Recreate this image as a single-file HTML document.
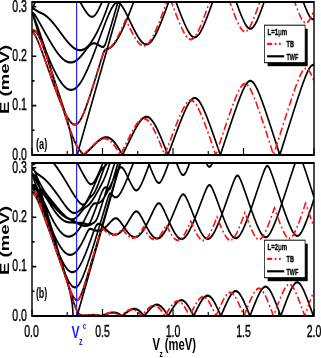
<!DOCTYPE html><html><head><meta charset="utf-8"><style>html,body{margin:0;padding:0;background:#fff}svg{display:block;filter:blur(0.35px)}text{font-family:"Liberation Sans",sans-serif}</style></head><body>
<svg width="321" height="358" viewBox="0 0 445.83 358" preserveAspectRatio="none">
<rect x="0" y="0" width="445.83" height="358" fill="#fff"/>
<defs>
<clipPath id="ctop"><rect x="44.44" y="2" width="391.67" height="153"/></clipPath>
<clipPath id="cbot"><rect x="44.44" y="163" width="391.67" height="153"/></clipPath>
</defs>
<g clip-path="url(#ctop)">
<path d="M44.44,31.24 44.93,31.54 45.42,31.89 45.91,32.29 46.4,32.73 46.89,33.21 47.38,33.73 47.87,34.28 48.36,34.87 48.85,35.49 49.34,36.14 49.83,36.82 50.32,37.52 50.81,38.25 51.3,39 51.79,39.78 52.28,40.57 52.77,41.38 53.26,42.21 53.75,43.06 54.24,43.92 54.73,44.79 55.22,45.68 55.7,46.58 56.19,47.49 56.68,48.41 57.17,49.34 57.66,50.28 58.15,51.22 58.64,52.18 59.13,53.14 59.62,54.1 60.11,55.07 60.6,56.05 61.09,57.03 61.58,58.01 62.07,59 62.56,59.99 63.05,60.99 63.54,61.98 64.03,62.98 64.52,63.98 65.01,64.98 65.5,65.99 65.99,66.99 66.48,67.99 66.97,69 67.45,70 67.94,71.01 68.43,72.01 68.92,73.01 69.41,74.02 69.9,75.02 70.39,76.02 70.88,77.02 71.37,78.01 71.86,79.01 72.35,80 72.84,80.99 73.33,81.98 73.82,82.96 74.31,83.94 74.8,84.92 75.29,85.9 75.78,86.87 76.27,87.83 76.76,88.8 77.25,89.75 77.74,90.71 78.23,91.66 78.72,92.6 79.2,93.54 79.69,94.47 80.18,95.4 80.67,96.32 81.16,97.24 81.65,98.14 82.14,99.04 82.63,99.94 83.12,100.82 83.61,101.7 84.1,102.57 84.59,103.43 85.08,104.28 85.57,105.13 86.06,105.96 86.55,106.78 87.04,107.59 87.53,108.69 88.02,109.8 88.51,110.91 89,112.01 89.49,113.11 89.98,114.21 90.47,115.3 90.95,116.38 91.44,117.46 91.93,118.54 92.42,119.61 92.91,120.67 93.4,121.72 93.89,122.77 94.38,123.81 94.87,124.84 95.36,125.87 95.85,126.88 96.34,127.89 96.83,128.88 97.32,129.87 97.81,130.84 98.3,131.8 98.79,132.75 99.28,133.68 99.77,134.61 100.26,135.51 100.75,136.4 101.24,137.28 101.73,138.13 102.22,138.97 102.7,139.79 103.19,140.59 103.68,141.37 104.17,142.13 104.66,142.87 105.15,143.59 105.64,144.29 106.13,144.96 106.62,145.62 107.11,146.25 107.6,146.85 108.09,147.44 108.58,148.01 109.07,148.55 109.56,149.07 110.05,149.58 110.54,150.07 111.03,150.53 111.52,150.99 112.01,151.42 112.5,151.85 112.99,152.26 113.48,152.66 113.97,153.05 114.45,153.42 114.94,153.79 115.43,154.16 115.92,154.52 116.41,154.87 116.9,154.78 117.39,154.44 117.88,154.1 118.37,153.76 118.86,153.42 119.35,153.08 119.84,152.74 120.33,152.4 120.82,152.07 121.31,151.73 121.8,151.39 122.29,151.04 122.78,150.7 123.27,150.35 123.76,150.01 124.25,149.66 124.74,149.31 125.23,148.96 125.72,148.61 126.2,148.25 126.69,147.9 127.18,147.54 127.67,147.18 128.16,146.83 128.65,146.47 129.14,146.11 129.63,145.76 130.12,145.4 130.61,145.05 131.1,144.69 131.59,144.34 132.08,144 132.57,143.65 133.06,143.31 133.55,142.98 134.04,142.64 134.53,142.32 135.02,141.99 135.51,141.68 136,141.37 136.49,141.07 136.98,140.77 137.47,140.48 137.95,140.21 138.44,139.94 138.93,139.68 139.42,139.43 139.91,139.19 140.4,138.96 140.89,138.75 141.38,138.55 141.87,138.36 142.36,138.18 142.85,138.02 143.34,137.87 143.83,137.74 144.32,137.62 144.81,137.52 145.3,137.44 145.79,137.37 146.28,137.32 146.77,137.29 147.26,137.27 147.75,137.27 148.24,137.29 148.73,137.33 149.22,137.39 149.7,137.47 150.19,137.56 150.68,137.67 151.17,137.81 151.66,137.96 152.15,138.13 152.64,138.32 153.13,138.52 153.62,138.75 154.11,139 154.6,139.26 155.09,139.54 155.58,139.84 156.07,140.16 156.56,140.49 157.05,140.84 157.54,141.21 158.03,141.6 158.52,142 159.01,142.41 159.5,142.84 159.99,143.29 160.48,143.75 160.97,144.23 161.45,144.72 161.94,145.22 162.43,145.73 162.92,146.26 163.41,146.8 163.9,147.35 164.39,147.92 164.88,148.49 165.37,149.08 165.86,149.67 166.35,150.28 166.84,150.89 167.33,151.51 167.82,152.15 168.31,152.79 168.8,153.43 169.29,154.09 169.78,154.75 170.27,154.58 170.76,153.91 171.25,153.22 171.74,152.54 172.23,151.85 172.72,151.15 173.2,150.45 173.69,149.74 174.18,149.03 174.67,148.32 175.16,147.6 175.65,146.88 176.14,146.16 176.63,145.44 177.12,144.71 177.61,143.99 178.1,143.26 178.59,142.53 179.08,141.8 179.57,141.08 180.06,140.35 180.55,139.62 181.04,138.9 181.53,138.17 182.02,137.45 182.51,136.73 183,136.02 183.49,135.31 183.98,134.6 184.47,133.89 184.95,133.19 185.44,132.5 185.93,131.81 186.42,131.13 186.91,130.46 187.4,129.79 187.89,129.13 188.38,128.48 188.87,127.84 189.36,127.21 189.85,126.59 190.34,125.98 190.83,125.38 191.32,124.8 191.81,124.23 192.3,123.67 192.79,123.13 193.28,122.61 193.77,122.1 194.26,121.61 194.75,121.14 195.24,120.69 195.73,120.26 196.22,119.85 196.7,119.46 197.19,119.09 197.68,118.75 198.17,118.44 198.66,118.14 199.15,117.88 199.64,117.64 200.13,117.43 200.62,117.25 201.11,117.09 201.6,116.97 202.09,116.87 202.58,116.81 203.07,116.77 203.56,116.77 204.05,116.79 204.54,116.85 205.03,116.94 205.52,117.05 206.01,117.2 206.5,117.38 206.99,117.59 207.48,117.83 207.97,118.09 208.45,118.39 208.94,118.71 209.43,119.06 209.92,119.43 210.41,119.83 210.9,120.26 211.39,120.71 211.88,121.18 212.37,121.68 212.86,122.2 213.35,122.73 213.84,123.29 214.33,123.87 214.82,124.47 215.31,125.08 215.8,125.72 216.29,126.37 216.78,127.03 217.27,127.71 217.76,128.41 218.25,129.11 218.74,129.84 219.23,130.57 219.72,131.32 220.2,132.08 220.69,132.85 221.18,133.63 221.67,134.42 222.16,135.22 222.65,136.03 223.14,136.84 223.63,137.67 224.12,138.5 224.61,139.35 225.1,140.2 225.59,141.05 226.08,141.91 226.57,142.78 227.06,143.66 227.55,144.54 228.04,145.43 228.53,146.32 229.02,147.21 229.51,148.11 230,149.02 230.49,149.93 230.98,150.84 231.47,151.76 231.95,152.68 232.44,153.6 232.93,154.53 233.42,154.54 233.91,153.61 234.4,152.68 234.89,151.74 235.38,150.8 235.87,149.86 236.36,148.92 236.85,147.98 237.34,147.04 237.83,146.09 238.32,145.14 238.81,144.2 239.3,143.25 239.79,142.3 240.28,141.35 240.77,140.4 241.26,139.46 241.75,138.51 242.24,137.56 242.73,136.61 243.22,135.67 243.7,134.73 244.19,133.78 244.68,132.84 245.17,131.9 245.66,130.96 246.15,130.03 246.64,129.1 247.13,128.17 247.62,127.24 248.11,126.32 248.6,125.4 249.09,124.49 249.58,123.58 250.07,122.67 250.56,121.77 251.05,120.88 251.54,119.99 252.03,119.1 252.52,118.23 253.01,117.36 253.5,116.5 253.99,115.65 254.48,114.8 254.97,113.97 255.45,113.15 255.94,112.34 256.43,111.53 256.92,110.75 257.41,109.97 257.9,109.21 258.39,108.46 258.88,107.73 259.37,107.02 259.86,106.32 260.35,105.65 260.84,104.99 261.33,104.35 261.82,103.74 262.31,103.15 262.8,102.59 263.29,102.05 263.78,101.54 264.27,101.06 264.76,100.61 265.25,100.19 265.74,99.8 266.23,99.45 266.72,99.14 267.2,98.86 267.69,98.62 268.18,98.41 268.67,98.25 269.16,98.13 269.65,98.05 270.14,98.01 270.63,98.01 271.12,98.05 271.61,98.13 272.1,98.26 272.59,98.42 273.08,98.63 273.57,98.87 274.06,99.16 274.55,99.48 275.04,99.83 275.53,100.22 276.02,100.65 276.51,101.11 277,101.6 277.49,102.12 277.98,102.66 278.47,103.24 278.95,103.84 279.44,104.47 279.93,105.11 280.42,105.79 280.91,106.48 281.4,107.19 281.89,107.92 282.38,108.67 282.87,109.44 283.36,110.22 283.85,111.02 284.34,111.84 284.83,112.66 285.32,113.5 285.81,114.35 286.3,115.22 286.79,116.09 287.28,116.98 287.77,117.87 288.26,118.77 288.75,119.69 289.24,120.61 289.73,121.54 290.22,122.47 290.7,123.42 291.19,124.37 291.68,125.32 292.17,126.29 292.66,127.25 293.15,128.23 293.64,129.21 294.13,130.19 294.62,131.18 295.11,132.17 295.6,133.17 296.09,134.17 296.58,135.18 297.07,136.19 297.56,137.2 298.05,138.22 298.54,139.24 299.03,140.26 299.52,141.28 300.01,142.31 300.5,143.34 300.99,144.37 301.48,145.41 301.97,146.44 302.45,147.48 302.94,148.52 303.43,149.57 303.92,150.61 304.41,151.66 304.9,152.71 305.39,153.75 305.88,154.8 306.37,154.14 306.86,153.09 307.35,152.04 307.84,150.98 308.33,149.93 308.82,148.87 309.31,147.81 309.8,146.76 310.29,145.7 310.78,144.64 311.27,143.58 311.76,142.52 312.25,141.47 312.74,140.41 313.23,139.35 313.72,138.29 314.2,137.23 314.69,136.17 315.18,135.11 315.67,134.06 316.16,133 316.65,131.94 317.14,130.89 317.63,129.83 318.12,128.78 318.61,127.73 319.1,126.68 319.59,125.63 320.08,124.58 320.57,123.53 321.06,122.49 321.55,121.45 322.04,120.41 322.53,119.37 323.02,118.33 323.51,117.3 324,116.27 324.49,115.24 324.98,114.22 325.47,113.2 325.95,112.18 326.44,111.17 326.93,110.16 327.42,109.16 327.91,108.16 328.4,107.17 328.89,106.18 329.38,105.2 329.87,104.22 330.36,103.25 330.85,102.29 331.34,101.34 331.83,100.39 332.32,99.46 332.81,98.53 333.3,97.62 333.79,96.71 334.28,95.82 334.77,94.94 335.26,94.07 335.75,93.22 336.24,92.38 336.73,91.56 337.22,90.76 337.7,89.98 338.19,89.21 338.68,88.47 339.17,87.75 339.66,87.06 340.15,86.4 340.64,85.76 341.13,85.15 341.62,84.58 342.11,84.04 342.6,83.53 343.09,83.07 343.58,82.64 344.07,82.26 344.56,81.92 345.05,81.62 345.54,81.38 346.03,81.18 346.52,81.03 347.01,80.93 347.5,80.88 347.99,80.88 348.48,80.94 348.97,81.04 349.45,81.2 349.94,81.4 350.43,81.66 350.92,81.96 351.41,82.3 351.9,82.69 352.39,83.13 352.88,83.6 353.37,84.11 353.86,84.65 354.35,85.24 354.84,85.85 355.33,86.49 355.82,87.16 356.31,87.86 356.8,88.59 357.29,89.34 357.78,90.11 358.27,90.9 358.76,91.71 359.25,92.54 359.74,93.38 360.23,94.24 360.72,95.12 361.2,96.01 361.69,96.91 362.18,97.83 362.67,98.76 363.16,99.7 363.65,100.64 364.14,101.6 364.63,102.57 365.12,103.54 365.61,104.53 366.1,105.52 366.59,106.52 367.08,107.52 367.57,108.53 368.06,109.55 368.55,110.57 369.04,111.6 369.53,112.63 370.02,113.66 370.51,114.71 371,115.75 371.49,116.8 371.98,117.86 372.47,118.91 372.95,119.97 373.44,121.04 373.93,122.1 374.42,123.17 374.91,124.25 375.4,125.32 375.89,126.4 376.38,127.48 376.87,128.56 377.36,129.65 377.85,130.74 378.34,131.83 378.83,132.92 379.32,134.01 379.81,135.1 380.3,136.2 380.79,137.3 381.28,138.4 381.77,139.5 382.26,140.6 382.75,141.7 383.24,142.81 383.73,143.91 384.22,145.02 384.7,146.13 385.19,147.24 385.68,148.35 386.17,149.46 386.66,150.57 387.15,151.68 387.64,152.79 388.13,153.91 388.62,154.98 389.11,153.86 389.6,152.75 390.09,151.63 390.58,150.52 391.07,149.4 391.56,148.28 392.05,147.17 392.54,146.05 393.03,144.93 393.52,143.81 394.01,142.69 394.5,141.58 394.99,140.46 395.48,139.34 395.97,138.22 396.45,137.1 396.94,135.98 397.43,134.87 397.92,133.75 398.41,132.63 398.9,131.51 399.39,130.4 399.88,129.28 400.37,128.17 400.86,127.05 401.35,125.94 401.84,124.82 402.33,123.71 402.82,122.6 403.31,121.48 403.8,120.37 404.29,119.26 404.78,118.15 405.27,117.05 405.76,115.94 406.25,114.83 406.74,113.73 407.23,112.63 407.72,111.53 408.2,110.43 408.69,109.33 409.18,108.24 409.67,107.14 410.16,106.05 410.65,104.96 411.14,103.88 411.63,102.79 412.12,101.71 412.61,100.64 413.1,99.56 413.59,98.49 414.08,97.42 414.57,96.36 415.06,95.3 415.55,94.25 416.04,93.2 416.53,92.15 417.02,91.11 417.51,90.08 418,89.05 418.49,88.03 418.98,87.02 419.47,86.01 419.95,85.01 420.44,84.02 420.93,83.04 421.42,82.08 421.91,81.12 422.4,80.17 422.89,79.24 423.38,78.32 423.87,77.41 424.36,76.53 424.85,75.66 425.34,74.8 425.83,73.97 426.32,73.16 426.81,72.38 427.3,71.62 427.79,70.89 428.28,70.19 428.77,69.52 429.26,68.88 429.75,68.29 430.24,67.73 430.73,67.22 431.22,66.75 431.7,66.33 432.19,65.96 432.68,65.64 433.17,65.38 433.66,65.18 434.15,65.03 434.64,64.95 435.13,64.92 435.62,64.96 436.11,65.06M44.44,31.24 44.93,30.98 45.42,30.78 45.91,30.63 46.4,30.54 46.89,30.51 47.38,30.54 47.87,30.62 48.36,30.77 48.85,30.98 49.34,31.25 49.83,31.58 50.32,31.97 50.81,32.4 51.3,32.89 51.79,33.43 52.28,34.01 52.77,34.62 53.26,35.28 53.75,35.96 54.24,36.68 54.73,37.42 55.22,38.18 55.7,38.96 56.19,39.76 56.68,40.58 57.17,41.41 57.66,42.26 58.15,43.12 58.64,43.99 59.13,44.88 59.62,45.77 60.11,46.68 60.6,47.61 61.09,48.54 61.58,49.49 62.07,50.45 62.56,51.43 63.05,52.43 63.54,53.44 64.03,54.46 64.52,55.5 65.01,56.55 65.5,57.62 65.99,58.7 66.48,59.79 66.97,60.88 67.45,61.99 67.94,63.1 68.43,64.22 68.92,65.34 69.41,66.47 69.9,67.6 70.39,68.74 70.88,69.88 71.37,71.02 71.86,72.16 72.35,73.3 72.84,74.45 73.33,75.6 73.82,76.75 74.31,77.9 74.8,79.05 75.29,80.2 75.78,81.35 76.27,82.5 76.76,83.65 77.25,84.8 77.74,85.95 78.23,87.1 78.72,88.25 79.2,89.4 79.69,90.55 80.18,91.7 80.67,92.84 81.16,93.99 81.65,95.13 82.14,96.27 82.63,97.41 83.12,98.55 83.61,99.69 84.1,100.82 84.59,101.95 85.08,103.08 85.57,104.21 86.06,105.33 86.55,106.46 87.04,107.57 87.53,108.39 88.02,109.18 88.51,109.96 89,110.73 89.49,111.48 89.98,112.22 90.47,112.94 90.95,113.65 91.44,114.35 91.93,115.03 92.42,115.69 92.91,116.34 93.4,116.96 93.89,117.57 94.38,118.16 94.87,118.73 95.36,119.28 95.85,119.81 96.34,120.31 96.83,120.8 97.32,121.25 97.81,121.68 98.3,122.09 98.79,122.47 99.28,122.82 99.77,123.14 100.26,123.43 100.75,123.69 101.24,123.92 101.73,124.11 102.22,124.27 102.7,124.4 103.19,124.48 103.68,124.54 104.17,124.55 104.66,124.52 105.15,124.46 105.64,124.35 106.13,124.21 106.62,124.02 107.11,123.8 107.6,123.53 108.09,123.23 108.58,122.88 109.07,122.5 109.56,122.07 110.05,121.61 110.54,121.11 111.03,120.58 111.52,120.01 112.01,119.41 112.5,118.77 112.99,118.11 113.48,117.41 113.97,116.69 114.45,115.94 114.94,115.17 115.43,114.37 115.92,113.55 116.41,112.7 116.9,111.84 117.39,110.96 117.88,110.06 118.37,109.14 118.86,108.21 119.35,107.27 119.84,106.3 120.33,105.33 120.82,104.34 121.31,103.35 121.8,102.34 122.29,101.32 122.78,100.29 123.27,99.25 123.76,98.21 124.25,97.15 124.74,96.09 125.23,95.02 125.72,93.95 126.2,92.87 126.69,91.78 127.18,90.69 127.67,89.59 128.16,88.48 128.65,87.38 129.14,86.26 129.63,85.15 130.12,84.03 130.61,82.91 131.1,81.78 131.59,80.65 132.08,79.52 132.57,78.38 133.06,77.24 133.55,76.1 134.04,74.96 134.53,73.81 135.02,72.67 135.51,71.52 136,70.37 136.49,69.22 136.98,68.07 137.47,66.92 137.95,65.77 138.44,64.62 138.93,63.48 139.42,62.33 139.91,61.19 140.4,60.05 140.89,58.92 141.38,57.81 141.87,56.7 142.36,55.62 142.85,54.56 143.34,53.55 143.83,52.61 144.32,51.77 144.81,51.06 145.3,50.51 145.79,50.11 146.28,49.83 146.77,49.63 147.26,49.48 147.75,49.36 148.24,49.25 148.73,49.14 149.22,49.03 149.7,48.91 150.19,48.77 150.68,48.63 151.17,48.47 151.66,48.29 152.15,48.1 152.64,47.88 153.13,47.66 153.62,47.41 154.11,47.14 154.6,46.86 155.09,46.55 155.58,46.23 156.07,45.89 156.56,45.53 157.05,45.16 157.54,44.76 158.03,44.35 158.52,43.92 159.01,43.47 159.5,43.01 159.99,42.53 160.48,42.03 160.97,41.52 161.45,40.99 161.94,40.45 162.43,39.89 162.92,39.31 163.41,38.73 163.9,38.12 164.39,37.51 164.88,36.88 165.37,36.24 165.86,35.59 166.35,34.92 166.84,34.24 167.33,33.55 167.82,32.85 168.31,32.14 168.8,31.42 169.29,30.69 169.78,29.94 170.27,29.19 170.76,28.43 171.25,27.66 171.74,26.88 172.23,26.09 172.72,25.3 173.2,24.49 173.69,23.68 174.18,22.86 174.67,22.03 175.16,21.2 175.65,20.36 176.14,19.51 176.63,18.66 177.12,17.79 177.61,16.93 178.1,17.61 178.59,18.34 179.08,19.07 179.57,19.8 180.06,20.54 180.55,21.27 181.04,22.01 181.53,22.74 182.02,23.47 182.51,24.2 183,24.93 183.49,25.65 183.98,26.37 184.47,27.09 184.95,27.8 185.44,28.51 185.93,29.21 186.42,29.9 186.91,30.59 187.4,31.27 187.89,31.94 188.38,32.6 188.87,33.25 189.36,33.89 189.85,34.52 190.34,35.14 190.83,35.74 191.32,36.33 191.81,36.91 192.3,37.47 192.79,38.02 193.28,38.55 193.77,39.06 194.26,39.55 194.75,40.03 195.24,40.48 195.73,40.92 196.22,41.33 196.7,41.72 197.19,42.08 197.68,42.42 198.17,42.74 198.66,43.03 199.15,43.29 199.64,43.52 200.13,43.73 200.62,43.91 201.11,44.06 201.6,44.18 202.09,44.27 202.58,44.32 203.07,44.35 203.56,44.35 204.05,44.31 204.54,44.24 205.03,44.14 205.52,44.01 206.01,43.85 206.5,43.66 206.99,43.44 207.48,43.19 207.97,42.91 208.45,42.6 208.94,42.26 209.43,41.89 209.92,41.5 210.41,41.08 210.9,40.63 211.39,40.16 211.88,39.67 212.37,39.15 212.86,38.61 213.35,38.05 213.84,37.47 214.33,36.87 214.82,36.24 215.31,35.6 215.8,34.94 216.29,34.27 216.78,33.58 217.27,32.87 217.76,32.14 218.25,31.4 218.74,30.65 219.23,29.88 219.72,29.1 220.2,28.31 220.69,27.51 221.18,26.69 221.67,25.86 222.16,25.03 222.65,24.18 223.14,23.32 223.63,22.46 224.12,21.58 224.61,20.7 225.1,19.81 225.59,18.91 226.08,18 226.57,17.08 227.06,16.16 227.55,15.23 228.04,14.3 228.53,13.36 229.02,12.41 229.51,11.45 230,10.49 230.49,9.53 230.98,8.56 231.47,7.59 231.95,6.61 232.44,5.62 232.93,4.63 233.42,3.64 233.91,2.64 234.4,1.64 234.89,0.64 235.38,-0.37 235.87,-1.38M242.73,-1.42 243.22,-0.46 243.7,0.5 244.19,1.46 244.68,2.42 245.17,3.38 245.66,4.33 246.15,5.28 246.64,6.22 247.13,7.16 247.62,8.1 248.11,9.04 248.6,9.97 249.09,10.89 249.58,11.81 250.07,12.72 250.56,13.63 251.05,14.53 251.54,15.43 252.03,16.32 252.52,17.2 253.01,18.07 253.5,18.94 253.99,19.79 254.48,20.64 254.97,21.48 255.45,22.3 255.94,23.12 256.43,23.92 256.92,24.71 257.41,25.48 257.9,26.24 258.39,26.99 258.88,27.72 259.37,28.43 259.86,29.12 260.35,29.8 260.84,30.45 261.33,31.08 261.82,31.69 262.31,32.28 262.8,32.84 263.29,33.37 263.78,33.88 264.27,34.35 264.76,34.79 265.25,35.21 265.74,35.59 266.23,35.93 266.72,36.24 267.2,36.51 267.69,36.74 268.18,36.93 268.67,37.09 269.16,37.2 269.65,37.27 270.14,37.3 270.63,37.29 271.12,37.24 271.61,37.14 272.1,37.01 272.59,36.83 273.08,36.61 273.57,36.35 274.06,36.06 274.55,35.72 275.04,35.35 275.53,34.95 276.02,34.51 276.51,34.04 277,33.53 277.49,33 277.98,32.43 278.47,31.84 278.95,31.23 279.44,30.58 279.93,29.92 280.42,29.23 280.91,28.52 281.4,27.79 281.89,27.04 282.38,26.27 282.87,25.48 283.36,24.68 283.85,23.86 284.34,23.03 284.83,22.18 285.32,21.32 285.81,20.45 286.3,19.57 286.79,18.67 287.28,17.76 287.77,16.85 288.26,15.92 288.75,14.98 289.24,14.04 289.73,13.09 290.22,12.13 290.7,11.16 291.19,10.18 291.68,9.2 292.17,8.21 292.66,7.22 293.15,6.22 293.64,5.21 294.13,4.2 294.62,3.18 295.11,2.16 295.6,1.13 296.09,0.1 296.58,-0.93 297.07,-1.97M326.44,-1.37 326.93,-0.36 327.42,0.64 327.91,1.64 328.4,2.64 328.89,3.62 329.38,4.6 329.87,5.58 330.36,6.55 330.85,7.5 331.34,8.46 331.83,9.4 332.32,10.33 332.81,11.26 333.3,12.17 333.79,13.07 334.28,13.96 334.77,14.84 335.26,15.7 335.75,16.55 336.24,17.38 336.73,18.2 337.22,18.99 337.7,19.77 338.19,20.53 338.68,21.26 339.17,21.98 339.66,22.66 340.15,23.32 340.64,23.95 341.13,24.55 341.62,25.12 342.11,25.65 342.6,26.15 343.09,26.61 343.58,27.03 344.07,27.4 344.56,27.74 345.05,28.02 345.54,28.26 346.03,28.45 346.52,28.59 347.01,28.68 347.5,28.72 347.99,28.71 348.48,28.65 348.97,28.53 349.45,28.37 349.94,28.15 350.43,27.89 350.92,27.58 351.41,27.22 351.9,26.82 352.39,26.38 352.88,25.89 353.37,25.37 353.86,24.81 354.35,24.22 354.84,23.6 355.33,22.94 355.82,22.26 356.31,21.55 356.8,20.81 357.29,20.05 357.78,19.27 358.27,18.46 358.76,17.64 359.25,16.8 359.74,15.94 360.23,15.07 360.72,14.18 361.2,13.27 361.69,12.35 362.18,11.42 362.67,10.48 363.16,9.53 363.65,8.57 364.14,7.6 364.63,6.61 365.12,5.62 365.61,4.63 366.1,3.62 366.59,2.61 367.08,1.59 367.57,0.56 368.06,-0.47 368.55,-1.51M419.47,-1.7 419.95,-0.71 420.44,0.27 420.93,1.25 421.42,2.21 421.91,3.17 422.4,4.11 422.89,5.04 423.38,5.95 423.87,6.85 424.36,7.74 424.85,8.6 425.34,9.45 425.83,10.27 426.32,11.08 426.81,11.86 427.3,12.61 427.79,13.34 428.28,14.03 428.77,14.69 429.26,15.32 429.75,15.91 430.24,16.46 430.73,16.97 431.22,17.43 431.7,17.84 432.19,18.21 432.68,18.52 433.17,18.77 433.66,18.97 434.15,19.11 434.64,19.18 435.13,19.2 435.62,19.16 436.11,19.05M44.44,13.45 44.93,13.91 45.42,14.51 45.91,15.19 46.4,15.95 46.89,16.75 47.38,17.58 47.87,18.43 48.36,19.3 48.85,20.19 49.34,21.09 49.83,22.01 50.32,22.93 50.81,23.87 51.3,24.82 51.79,25.78 52.28,26.75 52.77,27.73 53.26,28.72 53.75,29.72 54.24,30.73 54.73,31.75 55.22,32.77 55.7,33.81 56.19,34.84 56.68,35.89 57.17,36.93 57.66,37.99 58.15,39.04 58.64,40.09 59.13,41.14 59.62,42.19 60.11,43.24 60.6,44.28 61.09,45.31 61.58,46.34 62.07,47.35 62.56,48.35 63.05,49.34 63.54,50.31 64.03,51.27 64.52,52.22 65.01,53.15 65.5,54.07 65.99,54.98 66.48,55.87 66.97,56.75 67.45,57.62 67.94,58.48 68.43,59.33 68.92,60.17 69.41,61 69.9,61.83 70.39,62.64 70.88,63.45 71.37,64.25 71.86,65.03 72.35,65.82 72.84,66.59 73.33,67.35 73.82,68.1 74.31,68.85 74.8,69.59 75.29,70.31 75.78,71.03 76.27,71.74 76.76,72.44 77.25,73.13 77.74,73.81 78.23,74.48 78.72,75.13 79.2,75.78 79.69,76.42 80.18,77.04 80.67,77.66 81.16,78.26 81.65,78.85 82.14,79.42 82.63,79.99 83.12,80.54 83.61,81.08 84.1,81.61 84.59,82.12 85.08,82.62 85.57,83.1 86.06,83.57 86.55,84.03 87.04,84.47 87.53,84.89 88.02,85.3 88.51,85.7 89,86.07 89.49,86.44 89.98,86.78 90.47,87.11 90.95,87.42 91.44,87.71 91.93,87.99 92.42,88.25 92.91,88.49 93.4,88.71 93.89,88.91 94.38,89.1 94.87,89.26 95.36,89.41 95.85,89.53 96.34,89.64 96.83,89.73 97.32,89.8 97.81,89.84 98.3,89.87 98.79,89.88 99.28,89.86 99.77,89.83 100.26,89.77 100.75,89.7 101.24,89.6 101.73,89.49 102.22,89.35 102.7,89.19 103.19,89.01 103.68,88.81 104.17,88.59 104.66,88.35 105.15,88.09 105.64,87.81 106.13,87.51 106.62,87.19 107.11,86.84 107.6,86.48 108.09,86.1 108.58,85.7 109.07,85.29 109.56,84.85 110.05,84.4 110.54,83.92 111.03,83.43 111.52,82.92 112.01,82.4 112.5,81.86 112.99,81.3 113.48,80.72 113.97,80.13 114.45,79.52 114.94,78.9 115.43,78.27 115.92,77.62 116.41,76.95 116.9,76.27 117.39,75.58 117.88,74.88 118.37,74.16 118.86,73.43 119.35,72.69 119.84,71.93 120.33,71.17 120.82,70.39 121.31,69.61 121.8,68.81 122.29,68 122.78,67.19 123.27,66.36 123.76,65.53 124.25,64.69 124.74,63.84 125.23,62.98 125.72,62.11 126.2,61.24 126.69,60.36 127.18,59.47 127.67,58.58 128.16,57.68 128.65,56.77 129.14,55.86 129.63,54.94 130.12,54.02 130.61,53.09 131.1,52.16 131.59,51.23 132.08,50.29 132.57,49.35 133.06,48.4 133.55,47.45 134.04,46.5 134.53,45.55 135.02,44.59 135.51,44.48 136,44.68 136.49,44.88 136.98,45.09 137.47,45.3 137.95,45.51 138.44,45.71 138.93,45.91 139.42,46.1 139.91,46.28 140.4,46.45 140.89,46.6 141.38,46.73 141.87,46.84 142.36,46.91 142.85,46.95 143.34,46.92 143.83,46.81 144.32,46.58 144.81,46.21 145.3,45.66 145.79,44.94 146.28,44.09 146.77,43.13 147.26,42.11 147.75,41.04 148.24,39.94 148.73,38.82 149.22,37.68 149.7,36.54 150.19,35.38 150.68,34.21 151.17,33.04 151.66,31.86 152.15,30.68 152.64,29.5 153.13,28.31 153.62,27.13 154.11,25.93 154.6,24.74 155.09,23.55 155.58,22.35 156.07,21.15 156.56,19.96 157.05,18.76 157.54,17.56 158.03,16.35 158.52,15.15 159.01,13.95 159.5,12.74 159.99,11.54 160.48,10.33 160.97,9.13 161.45,7.92 161.94,6.71 162.43,5.51 162.92,4.3 163.41,3.09 163.9,2.45 164.39,2.55 164.88,2.71 165.37,2.91 165.86,3.16 166.35,3.44 166.84,3.77 167.33,4.13 167.82,4.53 168.31,4.96 168.8,5.43 169.29,5.92 169.78,6.43 170.27,6.97 170.76,7.54 171.25,8.12 171.74,8.72 172.23,9.34 172.72,9.97 173.2,10.62 173.69,11.28 174.18,11.95 174.67,12.63 175.16,13.33 175.65,14.02 176.14,14.73 176.63,15.44 177.12,16.16 177.61,16.88 178.1,16.05 178.59,15.18 179.08,14.29 179.57,13.4 180.06,12.51 180.55,11.61 181.04,10.7 181.53,9.79 182.02,8.88 182.51,7.96 183,7.04 183.49,6.11 183.98,5.18 184.47,4.25 184.95,3.31 185.44,2.37 185.93,1.42 186.42,0.47 186.91,-0.48 187.4,-1.43M44.44,13.45 44.93,13.16 45.42,13.04 45.91,13.09 46.4,13.29 46.89,13.58 47.38,13.96 47.87,14.39 48.36,14.87 48.85,15.38 49.34,15.92 49.83,16.48 50.32,17.05 50.81,17.63 51.3,18.22 51.79,18.82 52.28,19.43 52.77,20.04 53.26,20.65 53.75,21.27 54.24,21.89 54.73,22.51 55.22,23.13 55.7,23.75 56.19,24.38 56.68,25.01 57.17,25.64 57.66,26.27 58.15,26.9 58.64,27.53 59.13,28.16 59.62,28.79 60.11,29.42 60.6,30.05 61.09,30.68 61.58,31.31 62.07,31.94 62.56,32.57 63.05,33.2 63.54,33.82 64.03,34.45 64.52,35.07 65.01,35.7 65.5,36.32 65.99,36.94 66.48,37.56 66.97,38.17 67.45,38.79 67.94,39.4 68.43,40.01 68.92,40.61 69.41,41.21 69.9,41.81 70.39,42.41 70.88,43 71.37,43.58 71.86,44.17 72.35,44.74 72.84,45.32 73.33,45.88 73.82,46.45 74.31,47 74.8,47.56 75.29,48.1 75.78,48.64 76.27,49.17 76.76,49.7 77.25,50.22 77.74,50.73 78.23,51.23 78.72,51.73 79.2,52.22 79.69,52.7 80.18,53.17 80.67,53.63 81.16,54.08 81.65,54.53 82.14,54.96 82.63,55.39 83.12,55.8 83.61,56.21 84.1,56.6 84.59,56.98 85.08,57.36 85.57,57.72 86.06,58.07 86.55,58.4 87.04,58.73 87.53,59.04 88.02,59.35 88.51,59.63 89,59.91 89.49,60.17 89.98,60.42 90.47,60.66 90.95,60.88 91.44,61.09 91.93,61.28 92.42,61.46 92.91,61.62 93.4,61.78 93.89,61.91 94.38,62.03 94.87,62.14 95.36,62.23 95.85,62.31 96.34,62.37 96.83,62.41 97.32,62.44 97.81,62.46 98.3,62.46 98.79,62.44 99.28,62.41 99.77,62.37 100.26,62.3 100.75,62.23 101.24,62.13 101.73,62.03 102.22,61.9 102.7,61.77 103.19,61.61 103.68,61.44 104.17,61.26 104.66,61.06 105.15,60.85 105.64,60.63 106.13,60.39 106.62,60.13 107.11,59.87 107.6,59.59 108.09,59.29 108.58,58.99 109.07,58.67 109.56,58.34 110.05,58 110.54,57.64 111.03,57.28 111.52,56.9 112.01,56.52 112.5,56.12 112.99,55.72 113.48,55.31 113.97,54.89 114.45,54.46 114.94,54.02 115.43,53.58 115.92,53.13 116.41,52.68 116.9,52.23 117.39,51.77 117.88,51.31 118.37,50.85 118.86,50.38 119.35,49.92 119.84,49.46 120.33,49.01 120.82,48.56 121.31,48.11 121.8,47.68 122.29,47.25 122.78,46.84 123.27,46.44 123.76,46.05 124.25,45.68 124.74,45.34 125.23,45.01 125.72,44.7 126.2,44.43 126.69,44.18 127.18,43.95 127.67,43.76 128.16,43.6 128.65,43.47 129.14,43.37 129.63,43.3 130.12,43.27 130.61,43.26 131.1,43.29 131.59,43.34 132.08,43.41 132.57,43.51 133.06,43.63 133.55,43.77 134.04,43.93 134.53,44.1 135.02,44.28 135.51,43.63 136,42.67 136.49,41.71 136.98,40.75 137.47,39.79 137.95,38.83 138.44,37.87 138.93,36.91 139.42,35.95 139.91,34.99 140.4,34.03 140.89,33.07 141.38,32.12 141.87,31.17 142.36,30.22 142.85,29.28 143.34,28.34 143.83,27.4 144.32,26.47 144.81,25.55 145.3,24.63 145.79,23.72 146.28,22.81 146.77,21.91 147.26,21.02 147.75,20.13 148.24,19.26 148.73,18.39 149.22,17.53 149.7,16.69 150.19,15.85 150.68,15.03 151.17,14.22 151.66,13.43 152.15,12.65 152.64,11.88 153.13,11.13 153.62,10.4 154.11,9.69 154.6,9 155.09,8.34 155.58,7.69 156.07,7.08 156.56,6.49 157.05,5.94 157.54,5.41 158.03,4.92 158.52,4.47 159.01,4.06 159.5,3.68 159.99,3.35 160.48,3.07 160.97,2.83 161.45,2.64 161.94,2.5 162.43,2.41 162.92,2.38 163.41,2.39 163.9,1.88 164.39,0.67 164.88,-0.54 165.37,-1.75M44.44,8.18 44.93,8.39 45.42,8.53 45.91,8.65 46.4,8.76 46.89,8.89 47.38,9.05 47.87,9.24 48.36,9.44 48.85,9.67 49.34,9.9 49.83,10.14 50.32,10.38 50.81,10.61 51.3,10.84 51.79,11.05 52.28,11.26 52.77,11.46 53.26,11.65 53.75,11.83 54.24,12 54.73,12.17 55.22,12.34 55.7,12.5 56.19,12.67 56.68,12.83 57.17,13 57.66,13.17 58.15,13.34 58.64,13.52 59.13,13.71 59.62,13.9 60.11,14.1 60.6,14.31 61.09,14.52 61.58,14.74 62.07,14.97 62.56,15.21 63.05,15.46 63.54,15.72 64.03,15.99 64.52,16.26 65.01,16.54 65.5,16.84 65.99,17.14 66.48,17.45 66.97,17.77 67.45,18.1 67.94,18.43 68.43,18.78 68.92,19.13 69.41,19.49 69.9,19.85 70.39,20.23 70.88,20.61 71.37,21 71.86,21.39 72.35,21.8 72.84,22.2 73.33,22.62 73.82,23.04 74.31,23.46 74.8,23.89 75.29,24.32 75.78,24.76 76.27,25.21 76.76,25.66 77.25,26.11 77.74,26.56 78.23,27.02 78.72,27.48 79.2,27.95 79.69,28.42 80.18,28.89 80.67,29.36 81.16,29.83 81.65,30.31 82.14,30.78 82.63,31.26 83.12,31.74 83.61,32.22 84.1,32.69 84.59,33.17 85.08,33.65 85.57,34.13 86.06,34.6 86.55,35.07 87.04,35.55 87.53,36.02 88.02,36.49 88.51,36.95 89,37.41 89.49,37.87 89.98,38.33 90.47,38.78 90.95,39.23 91.44,39.67 91.93,40.11 92.42,40.55 92.91,40.98 93.4,41.4 93.89,41.82 94.38,42.23 94.87,42.63 95.36,43.03 95.85,43.42 96.34,43.8 96.83,44.17 97.32,44.54 97.81,44.9 98.3,45.25 98.79,45.59 99.28,45.92 99.77,46.24 100.26,46.55 100.75,46.84 101.24,47.13 101.73,47.41 102.22,47.67 102.7,47.93 103.19,48.17 103.68,48.4 104.17,48.62 104.66,48.82 105.15,49.01 105.64,49.19 106.13,49.35 106.62,49.5 107.11,49.63 107.6,49.75 108.09,49.86 108.58,49.95 109.07,50.02 109.56,50.08 110.05,50.13 110.54,50.16 111.03,50.17 111.52,50.16 112.01,50.15 112.5,50.11 112.99,50.06 113.48,49.99 113.97,49.91 114.45,49.81 114.94,49.69 115.43,49.56 115.92,49.41 116.41,49.24 116.9,49.06 117.39,48.86 117.88,48.64 118.37,48.41 118.86,48.16 119.35,47.9 119.84,47.62 120.33,47.32 120.82,47.01 121.31,46.68 121.8,46.34 122.29,45.98 122.78,45.61 123.27,45.22 123.76,44.82 124.25,44.4 124.74,43.97 125.23,43.52 125.72,43.06 126.2,42.59 126.69,42.1 127.18,41.6 127.67,41.08 128.16,40.55 128.65,40.01 129.14,39.46 129.63,38.89 130.12,38.31 130.61,37.72 131.1,37.12 131.59,36.5 132.08,35.87 132.57,35.23 133.06,34.58 133.55,33.92 134.04,33.25 134.53,32.56 135.02,31.87 135.51,31.16 136,30.44 136.49,29.72 136.98,28.98 137.47,28.23 137.95,27.47 138.44,26.7 138.93,25.92 139.42,25.13 139.91,24.33 140.4,23.52 140.89,22.7 141.38,21.87 141.87,21.03 142.36,20.18 142.85,19.33 143.34,18.46 143.83,17.58 144.32,16.69 144.81,15.8 145.3,14.89 145.79,13.97 146.28,13.05 146.77,12.12 147.26,11.18 147.75,10.22 148.24,9.27 148.73,8.3 149.22,7.32 149.7,6.34 150.19,5.35 150.68,4.35 151.17,3.35 151.66,2.33 152.15,1.31 152.64,0.29 153.13,-0.74 153.62,-1.78M44.44,8.18 44.93,7.87 45.42,7.43 45.91,6.86 46.4,6.19 46.89,5.45 47.38,4.66 47.87,3.83 48.36,2.98 48.85,2.1 49.34,1.21 49.83,0.31 50.32,-0.6 50.81,-1.51M108.58,-1.65 109.07,-1 109.56,-0.35 110.05,0.29 110.54,0.93 111.03,1.57 111.52,2.21 112.01,2.84 112.5,3.47 112.99,4.1 113.48,4.72 113.97,5.34 114.45,5.95 114.94,6.56 115.43,7.15 115.92,7.75 116.41,8.33 116.9,8.9 117.39,9.47 117.88,10.02 118.37,10.57 118.86,11.1 119.35,11.61 119.84,12.11 120.33,12.6 120.82,13.07 121.31,13.52 121.8,13.94 122.29,14.35 122.78,14.73 123.27,15.08 123.76,15.41 124.25,15.71 124.74,15.97 125.23,16.2 125.72,16.39 126.2,16.54 126.69,16.66 127.18,16.73 127.67,16.76 128.16,16.74 128.65,16.67 129.14,16.57 129.63,16.41 130.12,16.21 130.61,15.96 131.1,15.67 131.59,15.34 132.08,14.97 132.57,14.56 133.06,14.11 133.55,13.62 134.04,13.1 134.53,12.55 135.02,11.97 135.51,11.36 136,10.73 136.49,10.07 136.98,9.39 137.47,8.69 137.95,7.97 138.44,7.22 138.93,6.47 139.42,5.69 139.91,4.9 140.4,4.1 140.89,3.28 141.38,2.45 141.87,1.61 142.36,0.76 142.85,-0.1 143.34,-0.98 143.83,-1.86" fill="none" stroke="#000" stroke-width="2.2" stroke-linejoin="round"/>
<path d="M44.44,12 52.08,30 66.53,60 76.39,82 83.33,97 89.58,111 93.75,121 96.53,129 98.61,136 100.28,143 101.11,149 101.53,156M106.67,156L167.36,2" fill="none" stroke="#000" stroke-width="2.2" stroke-linejoin="round"/>
<line x1="106.39" y1="2.0" x2="106.39" y2="155.0" stroke="#1e1eff" stroke-width="1.6"/>
<path d="M44.44,31.13 44.93,31.44 45.42,31.8 45.91,32.2 46.4,32.64 46.89,33.13 47.38,33.65 47.87,34.21 48.36,34.8 48.85,35.42 49.34,36.07 49.83,36.75 50.32,37.45 50.81,38.18 51.3,38.93 51.79,39.71 52.28,40.5 52.77,41.31 53.26,42.14 53.75,42.99 54.24,43.85 54.73,44.73 55.22,45.61 55.7,46.51 56.19,47.42 56.68,48.34 57.17,49.27 57.66,50.21 58.15,51.16 58.64,52.11 59.13,53.07 59.62,54.04 60.11,55.01 60.6,55.99 61.09,56.97 61.58,57.96 62.07,58.95 62.56,59.94 63.05,60.93 63.54,61.93 64.03,62.93 64.52,63.93 65.01,64.93 65.5,65.94 65.99,66.94 66.48,67.95 66.97,68.95 67.45,69.96 67.94,70.97 68.43,71.97 68.92,72.98 69.41,73.98 69.9,74.98 70.39,75.99 70.88,76.99 71.37,77.98 71.86,78.98 72.35,79.97 72.84,80.97 73.33,81.95 73.82,82.94 74.31,83.92 74.8,84.9 75.29,85.88 75.78,86.85 76.27,87.82 76.76,88.79 77.25,89.75 77.74,90.7 78.23,91.65 78.72,92.6 79.2,93.54 79.69,94.48 80.18,95.4 80.67,96.33 81.16,97.24 81.65,98.15 82.14,99.06 82.63,99.95 83.12,100.84 83.61,101.72 84.1,102.59 84.59,103.45 85.08,104.31 85.57,105.15 86.06,105.99 86.55,106.81 87.04,107.62 87.53,108.72 88.02,109.84 88.51,110.95 89,112.05 89.49,113.16 89.98,114.25 90.47,115.35 90.95,116.44 91.44,117.52 91.93,118.6 92.42,119.67 92.91,120.74 93.4,121.8 93.89,122.86 94.38,123.9 94.87,124.94 95.36,125.97 95.85,126.99 96.34,128 96.83,129.01 97.32,130 97.81,130.98 98.3,131.95 98.79,132.91 99.28,133.85 99.77,134.78 100.26,135.7 100.75,136.6 101.24,137.49 101.73,138.36 102.22,139.21 102.7,140.04 103.19,140.86 103.68,141.65 104.17,142.43 104.66,143.19 105.15,143.92 105.64,144.63 106.13,145.33 106.62,146 107.11,146.64 107.6,147.27 108.09,147.88 108.58,148.46 109.07,149.03 109.56,149.57 110.05,150.09 110.54,150.6 111.03,151.09 111.52,151.56 112.01,152.02 112.5,152.46 112.99,152.89 113.48,153.3 113.97,153.71 114.45,154.11 114.94,154.49 115.43,154.87 115.92,154.76 116.41,154.39 116.9,154.03 117.39,153.67 117.88,153.32 118.37,152.97 118.86,152.62 119.35,152.27 119.84,151.93 120.33,151.58 120.82,151.24 121.31,150.89 121.8,150.55 122.29,150.21 122.78,149.86 123.27,149.52 123.76,149.17 124.25,148.83 124.74,148.48 125.23,148.14 125.72,147.8 126.2,147.45 126.69,147.11 127.18,146.77 127.67,146.42 128.16,146.08 128.65,145.75 129.14,145.41 129.63,145.08 130.12,144.74 130.61,144.42 131.1,144.09 131.59,143.77 132.08,143.46 132.57,143.15 133.06,142.84 133.55,142.55 134.04,142.25 134.53,141.97 135.02,141.69 135.51,141.42 136,141.16 136.49,140.91 136.98,140.67 137.47,140.44 137.95,140.22 138.44,140.01 138.93,139.81 139.42,139.63 139.91,139.46 140.4,139.3 140.89,139.15 141.38,139.02 141.87,138.91 142.36,138.81 142.85,138.72 143.34,138.65 143.83,138.6 144.32,138.57 144.81,138.55 145.3,138.55 145.79,138.56 146.28,138.6 146.77,138.65 147.26,138.72 147.75,138.81 148.24,138.91 148.73,139.04 149.22,139.18 149.7,139.35 150.19,139.53 150.68,139.73 151.17,139.94 151.66,140.18 152.15,140.43 152.64,140.7 153.13,140.99 153.62,141.3 154.11,141.62 154.6,141.96 155.09,142.32 155.58,142.69 156.07,143.08 156.56,143.49 157.05,143.91 157.54,144.34 158.03,144.79 158.52,145.25 159.01,145.73 159.5,146.22 159.99,146.72 160.48,147.24 160.97,147.76 161.45,148.3 161.94,148.85 162.43,149.41 162.92,149.99 163.41,150.57 163.9,151.16 164.39,151.76 164.88,152.37 165.37,152.99 165.86,153.62 166.35,154.25 166.84,154.89 167.33,154.46 167.82,153.81 168.31,153.15 168.8,152.48 169.29,151.81 169.78,151.13 170.27,150.45 170.76,149.76 171.25,149.07 171.74,148.38 172.23,147.68 172.72,146.98 173.2,146.28 173.69,145.57 174.18,144.87 174.67,144.16 175.16,143.45 175.65,142.74 176.14,142.03 176.63,141.33 177.12,140.62 177.61,139.91 178.1,139.21 178.59,138.5 179.08,137.8 179.57,137.1 180.06,136.41 180.55,135.72 181.04,135.03 181.53,134.35 182.02,133.67 182.51,133 183,132.33 183.49,131.68 183.98,131.03 184.47,130.38 184.95,129.75 185.44,129.13 185.93,128.51 186.42,127.91 186.91,127.32 187.4,126.74 187.89,126.17 188.38,125.62 188.87,125.08 189.36,124.55 189.85,124.05 190.34,123.56 190.83,123.08 191.32,122.63 191.81,122.2 192.3,121.78 192.79,121.39 193.28,121.02 193.77,120.67 194.26,120.35 194.75,120.05 195.24,119.77 195.73,119.52 196.22,119.3 196.7,119.11 197.19,118.94 197.68,118.8 198.17,118.69 198.66,118.61 199.15,118.56 199.64,118.54 200.13,118.55 200.62,118.59 201.11,118.66 201.6,118.76 202.09,118.9 202.58,119.06 203.07,119.25 203.56,119.47 204.05,119.71 204.54,119.99 205.03,120.29 205.52,120.62 206.01,120.98 206.5,121.36 206.99,121.77 207.48,122.21 207.97,122.66 208.45,123.14 208.94,123.64 209.43,124.16 209.92,124.71 210.41,125.27 210.9,125.85 211.39,126.45 211.88,127.07 212.37,127.7 212.86,128.35 213.35,129.02 213.84,129.7 214.33,130.4 214.82,131.11 215.31,131.83 215.8,132.56 216.29,133.31 216.78,134.07 217.27,134.83 217.76,135.61 218.25,136.4 218.74,137.2 219.23,138.01 219.72,138.82 220.2,139.65 220.69,140.48 221.18,141.32 221.67,142.16 222.16,143.02 222.65,143.88 223.14,144.74 223.63,145.61 224.12,146.49 224.61,147.37 225.1,148.26 225.59,149.15 226.08,150.04 226.57,150.94 227.06,151.85 227.55,152.76 228.04,153.67 228.53,154.58 229.02,154.5 229.51,153.58 230,152.66 230.49,151.74 230.98,150.81 231.47,149.88 231.95,148.95 232.44,148.02 232.93,147.09 233.42,146.15 233.91,145.22 234.4,144.28 234.89,143.35 235.38,142.41 235.87,141.47 236.36,140.54 236.85,139.6 237.34,138.66 237.83,137.73 238.32,136.79 238.81,135.86 239.3,134.93 239.79,134 240.28,133.07 240.77,132.14 241.26,131.22 241.75,130.3 242.24,129.38 242.73,128.47 243.22,127.56 243.7,126.65 244.19,125.75 244.68,124.85 245.17,123.95 245.66,123.07 246.15,122.18 246.64,121.31 247.13,120.44 247.62,119.58 248.11,118.72 248.6,117.88 249.09,117.04 249.58,116.21 250.07,115.39 250.56,114.58 251.05,113.79 251.54,113 252.03,112.23 252.52,111.48 253.01,110.73 253.5,110.01 253.99,109.3 254.48,108.61 254.97,107.93 255.45,107.28 255.94,106.65 256.43,106.04 256.92,105.45 257.41,104.89 257.9,104.35 258.39,103.84 258.88,103.36 259.37,102.91 259.86,102.49 260.35,102.11 260.84,101.75 261.33,101.44 261.82,101.16 262.31,100.92 262.8,100.71 263.29,100.55 263.78,100.42 264.27,100.33 264.76,100.29 265.25,100.29 265.74,100.33 266.23,100.41 266.72,100.53 267.2,100.69 267.69,100.89 268.18,101.12 268.67,101.4 269.16,101.72 269.65,102.07 270.14,102.45 270.63,102.87 271.12,103.32 271.61,103.81 272.1,104.32 272.59,104.86 273.08,105.43 273.57,106.03 274.06,106.65 274.55,107.29 275.04,107.96 275.53,108.64 276.02,109.35 276.51,110.08 277,110.82 277.49,111.58 277.98,112.36 278.47,113.16 278.95,113.96 279.44,114.79 279.93,115.62 280.42,116.47 280.91,117.33 281.4,118.2 281.89,119.08 282.38,119.97 282.87,120.87 283.36,121.78 283.85,122.69 284.34,123.62 284.83,124.55 285.32,125.49 285.81,126.44 286.3,127.39 286.79,128.35 287.28,129.31 287.77,130.28 288.26,131.26 288.75,132.24 289.24,133.22 289.73,134.21 290.22,135.21 290.7,136.21 291.19,137.21 291.68,138.21 292.17,139.22 292.66,140.23 293.15,141.25 293.64,142.27 294.13,143.29 294.62,144.31 295.11,145.34 295.6,146.37 296.09,147.4 296.58,148.43 297.07,149.46 297.56,150.5 298.05,151.54 298.54,152.58 299.03,153.62 299.52,154.66 300.01,154.29 300.5,153.25 300.99,152.2 301.48,151.15 301.97,150.1 302.45,149.05 302.94,148 303.43,146.95 303.92,145.9 304.41,144.85 304.9,143.8 305.39,142.75 305.88,141.7 306.37,140.64 306.86,139.59 307.35,138.54 307.84,137.49 308.33,136.44 308.82,135.39 309.31,134.34 309.8,133.29 310.29,132.24 310.78,131.19 311.27,130.14 311.76,129.1 312.25,128.05 312.74,127.01 313.23,125.97 313.72,124.93 314.2,123.89 314.69,122.86 315.18,121.83 315.67,120.79 316.16,119.77 316.65,118.74 317.14,117.72 317.63,116.7 318.12,115.69 318.61,114.67 319.1,113.67 319.59,112.66 320.08,111.67 320.57,110.67 321.06,109.68 321.55,108.7 322.04,107.72 322.53,106.75 323.02,105.79 323.51,104.84 324,103.89 324.49,102.95 324.98,102.02 325.47,101.1 325.95,100.19 326.44,99.29 326.93,98.4 327.42,97.53 327.91,96.67 328.4,95.82 328.89,94.99 329.38,94.18 329.87,93.39 330.36,92.61 330.85,91.86 331.34,91.12 331.83,90.42 332.32,89.73 332.81,89.08 333.3,88.45 333.79,87.86 334.28,87.29 334.77,86.76 335.26,86.27 335.75,85.82 336.24,85.41 336.73,85.04 337.22,84.71 337.7,84.43 338.19,84.2 338.68,84.01 339.17,83.88 339.66,83.79 340.15,83.76 340.64,83.78 341.13,83.84 341.62,83.96 342.11,84.13 342.6,84.35 343.09,84.62 343.58,84.93 344.07,85.29 344.56,85.69 345.05,86.13 345.54,86.61 346.03,87.13 346.52,87.68 347.01,88.27 347.5,88.89 347.99,89.54 348.48,90.22 348.97,90.92 349.45,91.65 349.94,92.41 350.43,93.18 350.92,93.98 351.41,94.79 351.9,95.62 352.39,96.47 352.88,97.33 353.37,98.21 353.86,99.11 354.35,100.01 354.84,100.93 355.33,101.86 355.82,102.8 356.31,103.75 356.8,104.71 357.29,105.67 357.78,106.65 358.27,107.63 358.76,108.62 359.25,109.62 359.74,110.63 360.23,111.64 360.72,112.65 361.2,113.68 361.69,114.7 362.18,115.74 362.67,116.77 363.16,117.81 363.65,118.86 364.14,119.91 364.63,120.96 365.12,122.02 365.61,123.08 366.1,124.14 366.59,125.21 367.08,126.28 367.57,127.35 368.06,128.42 368.55,129.5 369.04,130.58 369.53,131.66 370.02,132.75 370.51,133.83 371,134.92 371.49,136.01 371.98,137.1 372.47,138.2 372.95,139.29 373.44,140.39 373.93,141.48 374.42,142.58 374.91,143.68 375.4,144.78 375.89,145.89 376.38,146.99 376.87,148.1 377.36,149.2 377.85,150.31 378.34,151.42 378.83,152.52 379.32,153.63 379.81,154.74 380.3,154.15 380.79,153.04 381.28,151.92 381.77,150.81 382.26,149.7 382.75,148.59 383.24,147.47 383.73,146.36 384.22,145.25 384.7,144.13 385.19,143.02 385.68,141.9 386.17,140.79 386.66,139.68 387.15,138.56 387.64,137.45 388.13,136.33 388.62,135.22 389.11,134.11 389.6,132.99 390.09,131.88 390.58,130.77 391.07,129.66 391.56,128.55 392.05,127.44 392.54,126.33 393.03,125.22 393.52,124.11 394.01,123 394.5,121.9 394.99,120.79 395.48,119.69 395.97,118.58 396.45,117.48 396.94,116.38 397.43,115.28 397.92,114.19 398.41,113.09 398.9,112 399.39,110.91 399.88,109.82 400.37,108.73 400.86,107.64 401.35,106.56 401.84,105.48 402.33,104.41 402.82,103.33 403.31,102.26 403.8,101.2 404.29,100.13 404.78,99.08 405.27,98.02 405.76,96.97 406.25,95.93 406.74,94.89 407.23,93.86 407.72,92.83 408.2,91.81 408.69,90.8 409.18,89.79 409.67,88.79 410.16,87.8 410.65,86.82 411.14,85.85 411.63,84.89 412.12,83.95 412.61,83.01 413.1,82.09 413.59,81.18 414.08,80.29 414.57,79.42 415.06,78.57 415.55,77.73 416.04,76.92 416.53,76.13 417.02,75.37 417.51,74.63 418,73.92 418.49,73.25 418.98,72.61 419.47,72 419.95,71.44 420.44,70.92 420.93,70.44 421.42,70.01 421.91,69.64 422.4,69.31 422.89,69.04 423.38,68.82 423.87,68.67 424.36,68.57 424.85,68.53 425.34,68.56 425.83,68.64 426.32,68.79 426.81,68.99 427.3,69.25 427.79,69.56 428.28,69.93 428.77,70.35 429.26,70.82 429.75,71.33 430.24,71.89 430.73,72.48 431.22,73.12 431.7,73.78 432.19,74.48 432.68,75.22 433.17,75.98 433.66,76.76 434.15,77.57 434.64,78.4 435.13,79.25 435.62,80.13 436.11,81.02M44.44,31.13 44.93,30.87 45.42,30.67 45.91,30.51 46.4,30.42 46.89,30.38 47.38,30.4 47.87,30.49 48.36,30.64 48.85,30.85 49.34,31.13 49.83,31.46 50.32,31.86 50.81,32.31 51.3,32.81 51.79,33.36 52.28,33.96 52.77,34.59 53.26,35.26 53.75,35.97 54.24,36.7 54.73,37.46 55.22,38.24 55.7,39.04 56.19,39.85 56.68,40.68 57.17,41.53 57.66,42.39 58.15,43.26 58.64,44.14 59.13,45.04 59.62,45.94 60.11,46.85 60.6,47.78 61.09,48.71 61.58,49.66 62.07,50.62 62.56,51.59 63.05,52.57 63.54,53.57 64.03,54.59 64.52,55.62 65.01,56.66 65.5,57.71 65.99,58.78 66.48,59.86 66.97,60.94 67.45,62.04 67.94,63.14 68.43,64.26 68.92,65.37 69.41,66.5 69.9,67.62 70.39,68.76 70.88,69.89 71.37,71.03 71.86,72.17 72.35,73.31 72.84,74.46 73.33,75.6 73.82,76.75 74.31,77.9 74.8,79.05 75.29,80.2 75.78,81.35 76.27,82.5 76.76,83.65 77.25,84.8 77.74,85.95 78.23,87.1 78.72,88.25 79.2,89.4 79.69,90.55 80.18,91.7 80.67,92.85 81.16,93.99 81.65,95.14 82.14,96.28 82.63,97.42 83.12,98.56 83.61,99.7 84.1,100.84 84.59,101.97 85.08,103.1 85.57,104.23 86.06,105.36 86.55,106.48 87.04,107.6 87.53,108.43 88.02,109.22 88.51,110 89,110.76 89.49,111.52 89.98,112.26 90.47,112.98 90.95,113.69 91.44,114.39 91.93,115.07 92.42,115.73 92.91,116.38 93.4,117.01 93.89,117.62 94.38,118.21 94.87,118.78 95.36,119.33 95.85,119.86 96.34,120.36 96.83,120.85 97.32,121.3 97.81,121.74 98.3,122.14 98.79,122.52 99.28,122.87 99.77,123.2 100.26,123.49 100.75,123.75 101.24,123.98 101.73,124.17 102.22,124.33 102.7,124.46 103.19,124.55 103.68,124.6 104.17,124.62 104.66,124.59 105.15,124.53 105.64,124.43 106.13,124.29 106.62,124.1 107.11,123.88 107.6,123.62 108.09,123.31 108.58,122.97 109.07,122.59 109.56,122.17 110.05,121.71 110.54,121.22 111.03,120.68 111.52,120.12 112.01,119.52 112.5,118.89 112.99,118.22 113.48,117.53 113.97,116.81 114.45,116.06 114.94,115.29 115.43,114.49 115.92,113.68 116.41,112.83 116.9,111.97 117.39,111.09 117.88,110.19 118.37,109.28 118.86,108.35 119.35,107.4 119.84,106.44 120.33,105.47 120.82,104.48 121.31,103.48 121.8,102.47 122.29,101.45 122.78,100.42 123.27,99.39 123.76,98.34 124.25,97.28 124.74,96.22 125.23,95.15 125.72,94.08 126.2,93 126.69,91.91 127.18,90.81 127.67,89.71 128.16,88.61 128.65,87.5 129.14,86.39 129.63,85.27 130.12,84.15 130.61,83.03 131.1,81.9 131.59,80.77 132.08,79.63 132.57,78.49 133.06,77.35 133.55,76.21 134.04,75.07 134.53,73.92 135.02,72.77 135.51,71.62 136,70.47 136.49,69.32 136.98,68.17 137.47,67.01 137.95,65.86 138.44,64.71 138.93,63.56 139.42,62.41 139.91,61.26 140.4,60.12 140.89,58.99 141.38,57.87 141.87,56.76 142.36,55.68 142.85,54.63 143.34,53.64 143.83,52.73 144.32,51.96 144.81,51.34 145.3,50.89 145.79,50.57 146.28,50.33 146.77,50.14 147.26,49.97 147.75,49.8 148.24,49.64 148.73,49.47 149.22,49.29 149.7,49.09 150.19,48.89 150.68,48.66 151.17,48.42 151.66,48.16 152.15,47.89 152.64,47.6 153.13,47.28 153.62,46.96 154.11,46.61 154.6,46.24 155.09,45.86 155.58,45.46 156.07,45.05 156.56,44.61 157.05,44.16 157.54,43.69 158.03,43.21 158.52,42.71 159.01,42.19 159.5,41.66 159.99,41.12 160.48,40.56 160.97,39.98 161.45,39.39 161.94,38.79 162.43,38.17 162.92,37.54 163.41,36.9 163.9,36.25 164.39,35.58 164.88,34.9 165.37,34.21 165.86,33.51 166.35,32.8 166.84,32.08 167.33,31.35 167.82,30.61 168.31,29.86 168.8,29.1 169.29,28.33 169.78,27.55 170.27,26.76 170.76,25.97 171.25,25.17 171.74,24.36 172.23,23.54 172.72,22.71 173.2,21.88 173.69,21.04 174.18,20.2 174.67,19.82 175.16,20.52 175.65,21.23 176.14,21.95 176.63,22.66 177.12,23.38 177.61,24.1 178.1,24.81 178.59,25.53 179.08,26.24 179.57,26.95 180.06,27.66 180.55,28.37 181.04,29.07 181.53,29.77 182.02,30.46 182.51,31.15 183,31.83 183.49,32.5 183.98,33.17 184.47,33.82 184.95,34.47 185.44,35.11 185.93,35.73 186.42,36.35 186.91,36.95 187.4,37.54 187.89,38.12 188.38,38.69 188.87,39.23 189.36,39.77 189.85,40.28 190.34,40.78 190.83,41.26 191.32,41.72 191.81,42.16 192.3,42.58 192.79,42.97 193.28,43.35 193.77,43.7 194.26,44.02 194.75,44.33 195.24,44.6 195.73,44.85 196.22,45.07 196.7,45.26 197.19,45.42 197.68,45.56 198.17,45.66 198.66,45.74 199.15,45.78 199.64,45.8 200.13,45.78 200.62,45.73 201.11,45.65 201.6,45.54 202.09,45.4 202.58,45.23 203.07,45.03 203.56,44.79 204.05,44.53 204.54,44.24 205.03,43.92 205.52,43.58 206.01,43.2 206.5,42.8 206.99,42.38 207.48,41.93 207.97,41.45 208.45,40.95 208.94,40.43 209.43,39.89 209.92,39.32 210.41,38.73 210.9,38.13 211.39,37.5 211.88,36.86 212.37,36.2 212.86,35.52 213.35,34.83 213.84,34.11 214.33,33.39 214.82,32.65 215.31,31.9 215.8,31.13 216.29,30.35 216.78,29.56 217.27,28.75 217.76,27.94 218.25,27.11 218.74,26.27 219.23,25.43 219.72,24.57 220.2,23.71 220.69,22.83 221.18,21.95 221.67,21.06 222.16,20.16 222.65,19.25 223.14,18.34 223.63,17.42 224.12,16.49 224.61,15.56 225.1,14.62 225.59,13.67 226.08,12.72 226.57,11.76 227.06,10.8 227.55,9.83 228.04,8.86 228.53,7.88 229.02,6.9 229.51,5.91 230,4.92 230.49,3.92 230.98,2.92 231.47,1.92 231.95,0.91 232.44,-0.1 232.93,-1.11M236.36,-1.19 236.85,-0.23 237.34,0.74 237.83,1.69 238.32,2.65 238.81,3.61 239.3,4.56 239.79,5.51 240.28,6.46 240.77,7.4 241.26,8.34 241.75,9.28 242.24,10.21 242.73,11.14 243.22,12.07 243.7,12.99 244.19,13.91 244.68,14.82 245.17,15.72 245.66,16.62 246.15,17.51 246.64,18.4 247.13,19.28 247.62,20.15 248.11,21.01 248.6,21.86 249.09,22.7 249.58,23.54 250.07,24.36 250.56,25.17 251.05,25.97 251.54,26.76 252.03,27.53 252.52,28.29 253.01,29.04 253.5,29.76 253.99,30.47 254.48,31.17 254.97,31.84 255.45,32.49 255.94,33.12 256.43,33.73 256.92,34.32 257.41,34.88 257.9,35.41 258.39,35.91 258.88,36.39 259.37,36.84 259.86,37.25 260.35,37.63 260.84,37.98 261.33,38.29 261.82,38.56 262.31,38.8 262.8,38.99 263.29,39.15 263.78,39.27 264.27,39.34 264.76,39.38 265.25,39.37 265.74,39.32 266.23,39.23 266.72,39.1 267.2,38.93 267.69,38.72 268.18,38.47 268.67,38.18 269.16,37.86 269.65,37.49 270.14,37.09 270.63,36.66 271.12,36.2 271.61,35.7 272.1,35.17 272.59,34.61 273.08,34.03 273.57,33.42 274.06,32.78 274.55,32.12 275.04,31.44 275.53,30.74 276.02,30.01 276.51,29.27 277,28.5 277.49,27.72 277.98,26.92 278.47,26.11 278.95,25.28 279.44,24.44 279.93,23.59 280.42,22.72 280.91,21.84 281.4,20.95 281.89,20.04 282.38,19.13 282.87,18.21 283.36,17.28 283.85,16.34 284.34,15.39 284.83,14.43 285.32,13.47 285.81,12.49 286.3,11.52 286.79,10.53 287.28,9.54 287.77,8.54 288.26,7.54 288.75,6.53 289.24,5.52 289.73,4.5 290.22,3.47 290.7,2.44 291.19,1.41 291.68,0.37 292.17,-0.67 292.66,-1.71M317.63,-1.29 318.12,-0.27 318.61,0.75 319.1,1.76 319.59,2.76 320.08,3.76 320.57,4.76 321.06,5.75 321.55,6.73 322.04,7.71 322.53,8.68 323.02,9.65 323.51,10.6 324,11.55 324.49,12.49 324.98,13.42 325.47,14.34 325.95,15.24 326.44,16.14 326.93,17.03 327.42,17.9 327.91,18.75 328.4,19.6 328.89,20.42 329.38,21.23 329.87,22.02 330.36,22.79 330.85,23.55 331.34,24.27 331.83,24.98 332.32,25.65 332.81,26.3 333.3,26.93 333.79,27.52 334.28,28.07 334.77,28.6 335.26,29.08 335.75,29.53 336.24,29.93 336.73,30.3 337.22,30.62 337.7,30.89 338.19,31.12 338.68,31.29 339.17,31.42 339.66,31.5 340.15,31.52 340.64,31.5 341.13,31.42 341.62,31.29 342.11,31.11 342.6,30.89 343.09,30.61 343.58,30.29 344.07,29.92 344.56,29.51 345.05,29.06 345.54,28.57 346.03,28.04 346.52,27.47 347.01,26.87 347.5,26.24 347.99,25.58 348.48,24.89 348.97,24.18 349.45,23.44 349.94,22.67 350.43,21.88 350.92,21.08 351.41,20.25 351.9,19.41 352.39,18.54 352.88,17.67 353.37,16.77 353.86,15.87 354.35,14.95 354.84,14.02 355.33,13.08 355.82,12.12 356.31,11.16 356.8,10.18 357.29,9.2 357.78,8.21 358.27,7.21 358.76,6.21 359.25,5.19 359.74,4.17 360.23,3.14 360.72,2.11 361.2,1.07 361.69,0.03 362.18,-1.02 362.67,-2.07M407.72,-1.3 408.2,-0.28 408.69,0.73 409.18,1.73 409.67,2.73 410.16,3.71 410.65,4.69 411.14,5.66 411.63,6.61 412.12,7.56 412.61,8.49 413.1,9.4 413.59,10.31 414.08,11.19 414.57,12.06 415.06,12.91 415.55,13.74 416.04,14.55 416.53,15.34 417.02,16.09 417.51,16.83 418,17.53 418.49,18.2 418.98,18.83 419.47,19.43 419.95,19.99 420.44,20.5 420.93,20.97 421.42,21.4 421.91,21.77 422.4,22.09 422.89,22.35 423.38,22.56 423.87,22.71 424.36,22.8 424.85,22.83 425.34,22.8 425.83,22.71 426.32,22.56 426.81,22.35 427.3,22.08 427.79,21.76 428.28,21.38 428.77,20.96 429.26,20.48 429.75,19.96 430.24,19.4 430.73,18.8 431.22,18.16 431.7,17.48 432.19,16.77 432.68,16.03 433.17,15.26 433.66,14.47 434.15,13.65 434.64,12.81 435.13,11.95 435.62,11.07 436.11,10.17" fill="none" stroke="#ff1010" stroke-width="2.1" stroke-dasharray="8 3 2 3"/>
</g>
<rect x="44.44" y="2.0" width="391.67" height="153" fill="none" stroke="#000" stroke-width="2"/>
<path d="M44.44,155h6M44.44,130.3h3.5M44.44,105.6h6M44.44,80.9h3.5M44.44,56.2h6M44.44,31.5h3.5M44.44,6.8h6M44.44,155v-7M93.4,155v-4M142.36,155v-7M191.32,155v-4M240.28,155v-7M289.24,155v-4M338.19,155v-7M387.15,155v-4M436.11,155v-7" stroke="#000" stroke-width="1.6" fill="none"/>
<text x="37.5" y="159.9" font-size="16.3" text-anchor="end" stroke="#000" stroke-width="0.4" textLength="20.4" lengthAdjust="spacingAndGlyphs">0.0</text>
<text x="37.5" y="110.5" font-size="16.3" text-anchor="end" stroke="#000" stroke-width="0.4" textLength="20.4" lengthAdjust="spacingAndGlyphs">0.1</text>
<text x="37.5" y="61.1" font-size="16.3" text-anchor="end" stroke="#000" stroke-width="0.4" textLength="20.4" lengthAdjust="spacingAndGlyphs">0.2</text>
<text x="37.5" y="11.7" font-size="16.3" text-anchor="end" stroke="#000" stroke-width="0.4" textLength="20.4" lengthAdjust="spacingAndGlyphs">0.3</text>
<text transform="translate(12.5,79.4) rotate(-90)" font-size="18.6" font-weight="bold" text-anchor="middle">E (meV)</text>
<rect x="371.67" y="28.7" width="55.69" height="37.5" fill="#000"/>
<rect x="367.5" y="25.2" width="56.25" height="37.5" fill="#fff" stroke="#000" stroke-width="1"/>
<text x="371.67" y="35.4" font-size="9.6" font-weight="bold" stroke="#000" stroke-width="0.35" textLength="26.94" lengthAdjust="spacingAndGlyphs">L=1<tspan font-weight="normal">μ</tspan>m</text>
<path d="M370.97,43.8H391.67" stroke="#ff1010" stroke-width="2.2" stroke-dasharray="7 3.5 2.5 3.5 2.5 10"/>
<path d="M370.97,56.3H394.72" stroke="#000" stroke-width="2.2"/>
<text x="397.92" y="47.2" font-size="9.4" font-weight="bold" stroke="#000" stroke-width="0.35" textLength="10.28" lengthAdjust="spacingAndGlyphs">TB</text>
<text x="397.92" y="60.1" font-size="9.4" font-weight="bold" stroke="#000" stroke-width="0.35" textLength="16.39" lengthAdjust="spacingAndGlyphs">TWF</text>
<text x="49.86" y="148.7" font-size="15" font-weight="bold" textLength="15.83" lengthAdjust="spacingAndGlyphs">(a)</text>
<g clip-path="url(#cbot)">
<path d="M44.44,192.27 44.93,192.48 45.42,192.73 45.91,193.03 46.4,193.36 46.89,193.74 47.38,194.16 47.87,194.62 48.36,195.11 48.85,195.65 49.34,196.22 49.83,196.83 50.32,197.47 50.81,198.14 51.3,198.84 51.79,199.57 52.28,200.32 52.77,201.09 53.26,201.89 53.75,202.7 54.24,203.54 54.73,204.38 55.22,205.25 55.7,206.12 56.19,207.01 56.68,207.9 57.17,208.81 57.66,209.73 58.15,210.65 58.64,211.58 59.13,212.52 59.62,213.46 60.11,214.41 60.6,215.36 61.09,216.32 61.58,217.28 62.07,218.24 62.56,219.21 63.05,220.18 63.54,221.15 64.03,222.12 64.52,223.09 65.01,224.06 65.5,225.03 65.99,226.01 66.48,226.98 66.97,227.95 67.45,228.92 67.94,229.9 68.43,230.87 68.92,231.84 69.41,232.81 69.9,233.77 70.39,234.74 70.88,235.7 71.37,236.67 71.86,237.63 72.35,238.61 72.84,239.65 73.33,240.7 73.82,241.74 74.31,242.79 74.8,243.83 75.29,244.87 75.78,245.9 76.27,246.94 76.76,247.97 77.25,249 77.74,250.03 78.23,251.05 78.72,252.07 79.2,253.08 79.69,254.1 80.18,255.1 80.67,256.11 81.16,257.11 81.65,258.1 82.14,259.09 82.63,260.08 83.12,261.06 83.61,262.03 84.1,263 84.59,263.97 85.08,264.93 85.57,265.88 86.06,266.83 86.55,267.78 87.04,268.77 87.53,269.84 88.02,270.9 88.51,271.95 89,273.01 89.49,274.06 89.98,275.1 90.47,276.14 90.95,277.17 91.44,278.2 91.93,279.22 92.42,280.23 92.91,281.23 93.4,282.22 93.89,283.33 94.38,284.48 94.87,285.62 95.36,286.76 95.85,287.91 96.34,289.05 96.83,290.19 97.32,291.32 97.81,292.45 98.3,293.58 98.79,294.7 99.28,295.81 99.77,296.91 100.26,298 100.75,299.08 101.24,300.15 101.73,301.2 102.22,302.24 102.7,303.26 103.19,304.26 103.68,305.23 104.17,306.18 104.66,307.09 105.15,307.97 105.64,308.81 106.13,309.61 106.62,310.36 107.11,311.06 107.6,311.7 108.09,312.29 108.58,312.82 109.07,313.29 109.56,313.7 110.05,314.06 110.54,314.36 111.03,314.62 111.52,314.84 112.01,315.01 112.5,315.16 112.99,315.27 113.48,315.37 113.97,315.44 114.45,315.49 114.94,315.53 115.43,315.56 115.92,315.57 116.41,315.58 116.9,315.58 117.39,315.57 117.88,315.56 118.37,315.55 118.86,315.53 119.35,315.5 119.84,315.48 120.33,315.45 120.82,315.42 121.31,315.39 121.8,315.36 122.29,315.33 122.78,315.29 123.27,315.26 123.76,315.23 124.25,315.2 124.74,315.17 125.23,315.14 125.72,315.11 126.2,315.08 126.69,315.06 127.18,315.04 127.67,315.02 128.16,315 128.65,314.99 129.14,314.97 129.63,314.97 130.12,314.96 130.61,314.96 131.1,314.97 131.59,314.98 132.08,314.99 132.57,315.01 133.06,315.03 133.55,315.06 134.04,315.09 134.53,315.13 135.02,315.18 135.51,315.23 136,315.28 136.49,315.34 136.98,315.41 137.47,315.48 137.95,315.56 138.44,315.64 138.93,315.73 139.42,315.82 139.91,315.91 140.4,315.98 140.89,315.88 141.38,315.77 141.87,315.65 142.36,315.53 142.85,315.41 143.34,315.29 143.83,315.16 144.32,315.03 144.81,314.9 145.3,314.77 145.79,314.63 146.28,314.5 146.77,314.37 147.26,314.23 147.75,314.1 148.24,313.97 148.73,313.84 149.22,313.71 149.7,313.59 150.19,313.47 150.68,313.36 151.17,313.25 151.66,313.14 152.15,313.04 152.64,312.95 153.13,312.87 153.62,312.79 154.11,312.72 154.6,312.66 155.09,312.6 155.58,312.56 156.07,312.53 156.56,312.5 157.05,312.49 157.54,312.49 158.03,312.5 158.52,312.52 159.01,312.55 159.5,312.6 159.99,312.65 160.48,312.72 160.97,312.8 161.45,312.89 161.94,313 162.43,313.12 162.92,313.24 163.41,313.38 163.9,313.54 164.39,313.7 164.88,313.87 165.37,314.06 165.86,314.25 166.35,314.46 166.84,314.67 167.33,314.89 167.82,315.12 168.31,315.36 168.8,315.61 169.29,315.86 169.78,315.88 170.27,315.61 170.76,315.34 171.25,315.07 171.74,314.79 172.23,314.51 172.72,314.23 173.2,313.95 173.69,313.67 174.18,313.38 174.67,313.1 175.16,312.82 175.65,312.55 176.14,312.27 176.63,312.01 177.12,311.74 177.61,311.49 178.1,311.24 178.59,311 179.08,310.77 179.57,310.55 180.06,310.34 180.55,310.14 181.04,309.95 181.53,309.77 182.02,309.61 182.51,309.47 183,309.34 183.49,309.22 183.98,309.12 184.47,309.04 184.95,308.98 185.44,308.93 185.93,308.9 186.42,308.89 186.91,308.9 187.4,308.93 187.89,308.98 188.38,309.05 188.87,309.14 189.36,309.25 189.85,309.37 190.34,309.52 190.83,309.69 191.32,309.87 191.81,310.07 192.3,310.29 192.79,310.53 193.28,310.79 193.77,311.06 194.26,311.35 194.75,311.65 195.24,311.97 195.73,312.3 196.22,312.64 196.7,313 197.19,313.37 197.68,313.75 198.17,314.14 198.66,314.54 199.15,314.95 199.64,315.37 200.13,315.79 200.62,315.78 201.11,315.35 201.6,314.91 202.09,314.47 202.58,314.03 203.07,313.58 203.56,313.14 204.05,312.7 204.54,312.25 205.03,311.81 205.52,311.38 206.01,310.95 206.5,310.52 206.99,310.1 207.48,309.69 207.97,309.29 208.45,308.9 208.94,308.52 209.43,308.15 209.92,307.79 210.41,307.45 210.9,307.12 211.39,306.81 211.88,306.52 212.37,306.24 212.86,305.99 213.35,305.75 213.84,305.54 214.33,305.34 214.82,305.17 215.31,305.03 215.8,304.91 216.29,304.81 216.78,304.74 217.27,304.69 217.76,304.68 218.25,304.68 218.74,304.72 219.23,304.78 219.72,304.87 220.2,304.98 220.69,305.12 221.18,305.29 221.67,305.49 222.16,305.71 222.65,305.95 223.14,306.22 223.63,306.51 224.12,306.83 224.61,307.16 225.1,307.52 225.59,307.9 226.08,308.3 226.57,308.72 227.06,309.15 227.55,309.61 228.04,310.07 228.53,310.56 229.02,311.05 229.51,311.56 230,312.09 230.49,312.62 230.98,313.16 231.47,313.72 231.95,314.28 232.44,314.84 232.93,315.42 233.42,316 233.91,315.42 234.4,314.83 234.89,314.24 235.38,313.65 235.87,313.05 236.36,312.46 236.85,311.87 237.34,311.28 237.83,310.7 238.32,310.12 238.81,309.54 239.3,308.97 239.79,308.41 240.28,307.85 240.77,307.31 241.26,306.78 241.75,306.26 242.24,305.75 242.73,305.25 243.22,304.78 243.7,304.31 244.19,303.87 244.68,303.45 245.17,303.04 245.66,302.66 246.15,302.3 246.64,301.97 247.13,301.66 247.62,301.38 248.11,301.12 248.6,300.9 249.09,300.7 249.58,300.53 250.07,300.4 250.56,300.3 251.05,300.23 251.54,300.19 252.03,300.19 252.52,300.22 253.01,300.29 253.5,300.39 253.99,300.52 254.48,300.68 254.97,300.88 255.45,301.11 255.94,301.37 256.43,301.66 256.92,301.98 257.41,302.33 257.9,302.7 258.39,303.11 258.88,303.53 259.37,303.99 259.86,304.46 260.35,304.96 260.84,305.48 261.33,306.02 261.82,306.57 262.31,307.15 262.8,307.74 263.29,308.34 263.78,308.96 264.27,309.59 264.76,310.24 265.25,310.89 265.74,311.56 266.23,312.23 266.72,312.92 267.2,313.61 267.69,314.3 268.18,315.01 268.67,315.71 269.16,315.58 269.65,314.86 270.14,314.15 270.63,313.43 271.12,312.71 271.61,311.99 272.1,311.28 272.59,310.57 273.08,309.86 273.57,309.15 274.06,308.45 274.55,307.75 275.04,307.07 275.53,306.39 276.02,305.71 276.51,305.05 277,304.4 277.49,303.77 277.98,303.14 278.47,302.54 278.95,301.94 279.44,301.37 279.93,300.81 280.42,300.28 280.91,299.76 281.4,299.27 281.89,298.81 282.38,298.37 282.87,297.95 283.36,297.57 283.85,297.22 284.34,296.9 284.83,296.61 285.32,296.36 285.81,296.15 286.3,295.97 286.79,295.83 287.28,295.72 287.77,295.66 288.26,295.64 288.75,295.65 289.24,295.71 289.73,295.8 290.22,295.94 290.7,296.11 291.19,296.33 291.68,296.57 292.17,296.86 292.66,297.18 293.15,297.54 293.64,297.93 294.13,298.35 294.62,298.8 295.11,299.28 295.6,299.79 296.09,300.32 296.58,300.88 297.07,301.46 297.56,302.06 298.05,302.69 298.54,303.33 299.03,303.99 299.52,304.67 300.01,305.36 300.5,306.07 300.99,306.79 301.48,307.53 301.97,308.27 302.45,309.03 302.94,309.79 303.43,310.57 303.92,311.35 304.41,312.14 304.9,312.93 305.39,313.73 305.88,314.54 306.37,315.35 306.86,315.84 307.35,315.02 307.84,314.21 308.33,313.39 308.82,312.57 309.31,311.75 309.8,310.94 310.29,310.12 310.78,309.31 311.27,308.5 311.76,307.7 312.25,306.9 312.74,306.11 313.23,305.32 313.72,304.54 314.2,303.77 314.69,303.01 315.18,302.26 315.67,301.52 316.16,300.8 316.65,300.09 317.14,299.39 317.63,298.72 318.12,298.05 318.61,297.41 319.1,296.79 319.59,296.2 320.08,295.63 320.57,295.08 321.06,294.56 321.55,294.07 322.04,293.62 322.53,293.19 323.02,292.8 323.51,292.45 324,292.14 324.49,291.86 324.98,291.63 325.47,291.44 325.95,291.29 326.44,291.19 326.93,291.13 327.42,291.12 327.91,291.15 328.4,291.23 328.89,291.36 329.38,291.53 329.87,291.74 330.36,292 330.85,292.29 331.34,292.63 331.83,293.01 332.32,293.42 332.81,293.87 333.3,294.36 333.79,294.87 334.28,295.42 334.77,296 335.26,296.6 335.75,297.23 336.24,297.88 336.73,298.55 337.22,299.25 337.7,299.96 338.19,300.69 338.68,301.44 339.17,302.21 339.66,302.99 340.15,303.78 340.64,304.58 341.13,305.4 341.62,306.23 342.11,307.07 342.6,307.91 343.09,308.77 343.58,309.63 344.07,310.49 344.56,311.37 345.05,312.24 345.54,313.13 346.03,314.01 346.52,314.9 347.01,315.8 347.5,315.31 347.99,314.41 348.48,313.52 348.97,312.62 349.45,311.72 349.94,310.83 350.43,309.93 350.92,309.04 351.41,308.15 351.9,307.26 352.39,306.38 352.88,305.5 353.37,304.63 353.86,303.76 354.35,302.9 354.84,302.05 355.33,301.21 355.82,300.37 356.31,299.55 356.8,298.74 357.29,297.94 357.78,297.15 358.27,296.38 358.76,295.63 359.25,294.89 359.74,294.18 360.23,293.48 360.72,292.81 361.2,292.16 361.69,291.54 362.18,290.94 362.67,290.38 363.16,289.85 363.65,289.35 364.14,288.89 364.63,288.47 365.12,288.08 365.61,287.74 366.1,287.45 366.59,287.2 367.08,287 367.57,286.84 368.06,286.74 368.55,286.69 369.04,286.69 369.53,286.74 370.02,286.84 370.51,286.99 371,287.19 371.49,287.44 371.98,287.73 372.47,288.07 372.95,288.46 373.44,288.89 373.93,289.35 374.42,289.85 374.91,290.39 375.4,290.97 375.89,291.57 376.38,292.2 376.87,292.86 377.36,293.55 377.85,294.26 378.34,294.99 378.83,295.75 379.32,296.52 379.81,297.31 380.3,298.12 380.79,298.94 381.28,299.78 381.77,300.63 382.26,301.49 382.75,302.36 383.24,303.25 383.73,304.14 384.22,305.04 384.7,305.95 385.19,306.87 385.68,307.79 386.17,308.72 386.66,309.66 387.15,310.6 387.64,311.54 388.13,312.49 388.62,313.44 389.11,314.39 389.6,315.34 390.09,315.7 390.58,314.74 391.07,313.78 391.56,312.82 392.05,311.86 392.54,310.9 393.03,309.95 393.52,308.99 394.01,308.04 394.5,307.08 394.99,306.14 395.48,305.19 395.97,304.25 396.45,303.31 396.94,302.38 397.43,301.46 397.92,300.54 398.41,299.63 398.9,298.72 399.39,297.83 399.88,296.94 400.37,296.07 400.86,295.21 401.35,294.36 401.84,293.52 402.33,292.71 402.82,291.9 403.31,291.12 403.8,290.35 404.29,289.61 404.78,288.89 405.27,288.2 405.76,287.53 406.25,286.89 406.74,286.29 407.23,285.72 407.72,285.18 408.2,284.69 408.69,284.23 409.18,283.82 409.67,283.46 410.16,283.14 410.65,282.87 411.14,282.66 411.63,282.5 412.12,282.4 412.61,282.35 413.1,282.35 413.59,282.42 414.08,282.54 414.57,282.71 415.06,282.94 415.55,283.22 416.04,283.55 416.53,283.93 417.02,284.36 417.51,284.83 418,285.34 418.49,285.89 418.98,286.48 419.47,287.1 419.95,287.75 420.44,288.43 420.93,289.14 421.42,289.88 421.91,290.64 422.4,291.42 422.89,292.23 423.38,293.05 423.87,293.89 424.36,294.74 424.85,295.61 425.34,296.5 425.83,297.39 426.32,298.3 426.81,299.22 427.3,300.15 427.79,301.09 428.28,302.03 428.77,302.99 429.26,303.95 429.75,304.91 430.24,305.89 430.73,306.86 431.22,307.85 431.7,308.83 432.19,309.83 432.68,310.82 433.17,311.82 433.66,312.82 434.15,313.82 434.64,314.82 435.13,315.83 435.62,315.16 436.11,314.16M44.44,192.27 44.93,192.1 45.42,191.98 45.91,191.9 46.4,191.87 46.89,191.88 47.38,191.95 47.87,192.07 48.36,192.26 48.85,192.5 49.34,192.95 49.83,193.68 50.32,194.44 50.81,195.22 51.3,196.02 51.79,196.84 52.28,197.68 52.77,198.53 53.26,199.4 53.75,200.29 54.24,201.18 54.73,202.09 55.22,203.01 55.7,203.94 56.19,204.88 56.68,205.83 57.17,206.79 57.66,207.76 58.15,208.73 58.64,209.71 59.13,210.7 59.62,211.69 60.11,212.69 60.6,213.69 61.09,214.7 61.58,215.71 62.07,216.73 62.56,217.75 63.05,218.78 63.54,219.8 64.03,220.84 64.52,221.87 65.01,222.91 65.5,223.95 65.99,224.99 66.48,226.03 66.97,227.07 67.45,228.12 67.94,229.17 68.43,230.22 68.92,231.26 69.41,232.31 69.9,233.36 70.39,234.41 70.88,235.46 71.37,236.51 71.86,237.56 72.35,238.59 72.84,239.55 73.33,240.5 73.82,241.46 74.31,242.42 74.8,243.37 75.29,244.33 75.78,245.29 76.27,246.25 76.76,247.21 77.25,248.17 77.74,249.14 78.23,250.11 78.72,251.09 79.2,252.08 79.69,253.08 80.18,254.08 80.67,255.09 81.16,256.11 81.65,257.14 82.14,258.18 82.63,259.22 83.12,260.27 83.61,261.33 84.1,262.39 84.59,263.45 85.08,264.51 85.57,265.58 86.06,266.64 86.55,267.71 87.04,268.73 87.53,269.68 88.02,270.63 88.51,271.58 89,272.55 89.49,273.54 89.98,274.55 90.47,275.58 90.95,276.64 91.44,277.72 91.93,278.82 92.42,279.93 92.91,281.06 93.4,282.19 93.89,283.2 94.38,284.17 94.87,285.13 95.36,286.08 95.85,287.01 96.34,287.92 96.83,288.82 97.32,289.7 97.81,290.56 98.3,291.4 98.79,292.22 99.28,293.01 99.77,293.77 100.26,294.51 100.75,295.22 101.24,295.89 101.73,296.53 102.22,297.12 102.7,297.68 103.19,298.19 103.68,298.65 104.17,299.05 104.66,299.4 105.15,299.69 105.64,299.91 106.13,300.06 106.62,300.13 107.11,300.13 107.6,300.04 108.09,299.87 108.58,299.62 109.07,299.28 109.56,298.86 110.05,298.36 110.54,297.79 111.03,297.15 111.52,296.44 112.01,295.68 112.5,294.87 112.99,294.01 113.48,293.11 113.97,292.18 114.45,291.22 114.94,290.23 115.43,289.22 115.92,288.18 116.41,287.13 116.9,286.06 117.39,284.98 117.88,283.89 118.37,282.78 118.86,281.67 119.35,280.54 119.84,279.41 120.33,278.27 120.82,277.12 121.31,275.97 121.8,274.81 122.29,273.65 122.78,272.48 123.27,271.31 123.76,270.14 124.25,268.96 124.74,267.78 125.23,266.59 125.72,265.41 126.2,264.22 126.69,263.03 127.18,261.83 127.67,260.64 128.16,259.44 128.65,258.25 129.14,257.05 129.63,255.84 130.12,254.64 130.61,253.44 131.1,252.23 131.59,251.03 132.08,249.82 132.57,248.61 133.06,247.41 133.55,246.2 134.04,244.99 134.53,243.78 135.02,242.57 135.51,241.36 136,240.15 136.49,238.94 136.98,237.73 137.47,236.52 137.95,235.31 138.44,234.1 138.93,232.9 139.42,231.7 139.91,230.52 140.4,230.09 140.89,229.94 141.38,229.78 141.87,229.6 142.36,229.4 142.85,229.19 143.34,228.97 143.83,228.73 144.32,228.48 144.81,228.22 145.3,228.08 145.79,228.42 146.28,228.76 146.77,229.11 147.26,229.45 147.75,229.79 148.24,230.13 148.73,230.46 149.22,230.78 149.7,231.1 150.19,231.41 150.68,231.71 151.17,232 151.66,232.27 152.15,232.54 152.64,232.79 153.13,233.03 153.62,233.26 154.11,233.47 154.6,233.66 155.09,233.84 155.58,234.01 156.07,234.15 156.56,234.28 157.05,234.39 157.54,234.48 158.03,234.55 158.52,234.61 159.01,234.64 159.5,234.65 159.99,234.65 160.48,234.62 160.97,234.57 161.45,234.51 161.94,234.42 162.43,234.31 162.92,234.19 163.41,234.04 163.9,233.87 164.39,233.68 164.88,233.47 165.37,233.25 165.86,233 166.35,232.73 166.84,232.45 167.33,232.14 167.82,231.82 168.31,231.48 168.8,231.13 169.29,230.75 169.78,230.36 170.27,229.96 170.76,229.54 171.25,229.1 171.74,228.65 172.23,228.18 172.72,227.71 173.2,228.17 173.69,228.68 174.18,229.19 174.67,229.69 175.16,230.18 175.65,230.66 176.14,231.13 176.63,231.59 177.12,232.03 177.61,232.47 178.1,232.88 178.59,233.29 179.08,233.68 179.57,234.05 180.06,234.4 180.55,234.74 181.04,235.05 181.53,235.35 182.02,235.62 182.51,235.88 183,236.11 183.49,236.32 183.98,236.51 184.47,236.67 184.95,236.81 185.44,236.93 185.93,237.02 186.42,237.09 186.91,237.13 187.4,237.14 187.89,237.13 188.38,237.09 188.87,237.03 189.36,236.94 189.85,236.82 190.34,236.68 190.83,236.52 191.32,236.33 191.81,236.11 192.3,235.87 192.79,235.6 193.28,235.31 193.77,235 194.26,234.66 194.75,234.3 195.24,233.92 195.73,233.52 196.22,233.1 196.7,232.66 197.19,232.19 197.68,231.71 198.17,231.21 198.66,230.69 199.15,230.16 199.64,229.61 200.13,229.04 200.62,228.46 201.11,227.86 201.6,227.25 202.09,226.63 202.58,225.99 203.07,226.13 203.56,226.78 204.05,227.42 204.54,228.06 205.03,228.68 205.52,229.3 206.01,229.9 206.5,230.49 206.99,231.07 207.48,231.63 207.97,232.17 208.45,232.71 208.94,233.22 209.43,233.71 209.92,234.19 210.41,234.65 210.9,235.08 211.39,235.5 211.88,235.89 212.37,236.25 212.86,236.59 213.35,236.91 213.84,237.2 214.33,237.46 214.82,237.7 215.31,237.9 215.8,238.08 216.29,238.23 216.78,238.34 217.27,238.43 217.76,238.48 218.25,238.51 218.74,238.5 219.23,238.46 219.72,238.39 220.2,238.28 220.69,238.15 221.18,237.98 221.67,237.79 222.16,237.56 222.65,237.31 223.14,237.02 223.63,236.71 224.12,236.37 224.61,236 225.1,235.6 225.59,235.18 226.08,234.74 226.57,234.27 227.06,233.78 227.55,233.26 228.04,232.72 228.53,232.17 229.02,231.59 229.51,230.99 230,230.38 230.49,229.75 230.98,229.1 231.47,228.43 231.95,227.75 232.44,227.06 232.93,226.35 233.42,225.63 233.91,224.89 234.4,224.15 234.89,223.39 235.38,222.62 235.87,223.3 236.36,224.06 236.85,224.82 237.34,225.56 237.83,226.3 238.32,227.03 238.81,227.74 239.3,228.44 239.79,229.13 240.28,229.81 240.77,230.47 241.26,231.11 241.75,231.74 242.24,232.35 242.73,232.94 243.22,233.5 243.7,234.05 244.19,234.58 244.68,235.08 245.17,235.55 245.66,236 246.15,236.43 246.64,236.82 247.13,237.19 247.62,237.52 248.11,237.83 248.6,238.1 249.09,238.33 249.58,238.54 250.07,238.7 250.56,238.84 251.05,238.93 251.54,238.99 252.03,239.01 252.52,239 253.01,238.95 253.5,238.86 253.99,238.73 254.48,238.57 254.97,238.37 255.45,238.14 255.94,237.87 256.43,237.57 256.92,237.24 257.41,236.87 257.9,236.47 258.39,236.05 258.88,235.59 259.37,235.11 259.86,234.6 260.35,234.06 260.84,233.5 261.33,232.91 261.82,232.31 262.31,231.68 262.8,231.03 263.29,230.36 263.78,229.67 264.27,228.97 264.76,228.24 265.25,227.51 265.74,226.75 266.23,225.98 266.72,225.2 267.2,224.41 267.69,223.6 268.18,222.78 268.67,221.95 269.16,221.12 269.65,220.27 270.14,219.41 270.63,218.59 271.12,219.46 271.61,220.31 272.1,221.16 272.59,222 273.08,222.83 273.57,223.65 274.06,224.47 274.55,225.27 275.04,226.06 275.53,226.83 276.02,227.6 276.51,228.35 277,229.08 277.49,229.8 277.98,230.5 278.47,231.18 278.95,231.84 279.44,232.48 279.93,233.1 280.42,233.69 280.91,234.26 281.4,234.8 281.89,235.32 282.38,235.8 282.87,236.26 283.36,236.68 283.85,237.07 284.34,237.42 284.83,237.74 285.32,238.02 285.81,238.26 286.3,238.47 286.79,238.63 287.28,238.75 287.77,238.83 288.26,238.87 288.75,238.86 289.24,238.82 289.73,238.73 290.22,238.59 290.7,238.42 291.19,238.21 291.68,237.95 292.17,237.66 292.66,237.33 293.15,236.96 293.64,236.56 294.13,236.13 294.62,235.66 295.11,235.15 295.6,234.62 296.09,234.06 296.58,233.48 297.07,232.86 297.56,232.23 298.05,231.57 298.54,230.88 299.03,230.18 299.52,229.45 300.01,228.71 300.5,227.95 300.99,227.17 301.48,226.38 301.97,225.57 302.45,224.75 302.94,223.91 303.43,223.06 303.92,222.2 304.41,221.33 304.9,220.45 305.39,219.56 305.88,218.65 306.37,217.74 306.86,216.82 307.35,215.9 307.84,214.96 308.33,214.02 308.82,214.84 309.31,215.77 309.8,216.69 310.29,217.61 310.78,218.52 311.27,219.42 311.76,220.32 312.25,221.2 312.74,222.08 313.23,222.94 313.72,223.79 314.2,224.64 314.69,225.46 315.18,226.28 315.67,227.08 316.16,227.86 316.65,228.63 317.14,229.38 317.63,230.1 318.12,230.81 318.61,231.5 319.1,232.16 319.59,232.8 320.08,233.41 320.57,233.99 321.06,234.54 321.55,235.06 322.04,235.55 322.53,236 323.02,236.41 323.51,236.79 324,237.12 324.49,237.41 324.98,237.67 325.47,237.87 325.95,238.03 326.44,238.14 326.93,238.21 327.42,238.23 327.91,238.2 328.4,238.13 328.89,238.01 329.38,237.84 329.87,237.62 330.36,237.36 330.85,237.06 331.34,236.72 331.83,236.33 332.32,235.91 332.81,235.44 333.3,234.95 333.79,234.42 334.28,233.85 334.77,233.26 335.26,232.63 335.75,231.98 336.24,231.31 336.73,230.6 337.22,229.88 337.7,229.14 338.19,228.37 338.68,227.58 339.17,226.78 339.66,225.96 340.15,225.13 340.64,224.28 341.13,223.41 341.62,222.53 342.11,221.64 342.6,220.74 343.09,219.83 343.58,218.91 344.07,217.97 344.56,217.03 345.05,216.08 345.54,215.12 346.03,214.16 346.52,213.18 347.01,212.2 347.5,211.22 347.99,210.23 348.48,209.23 348.97,209.65 349.45,210.64 349.94,211.62 350.43,212.6 350.92,213.57 351.41,214.54 351.9,215.5 352.39,216.45 352.88,217.4 353.37,218.33 353.86,219.26 354.35,220.18 354.84,221.08 355.33,221.98 355.82,222.87 356.31,223.74 356.8,224.59 357.29,225.44 357.78,226.26 358.27,227.07 358.76,227.86 359.25,228.63 359.74,229.38 360.23,230.11 360.72,230.82 361.2,231.49 361.69,232.14 362.18,232.76 362.67,233.35 363.16,233.9 363.65,234.42 364.14,234.9 364.63,235.34 365.12,235.74 365.61,236.09 366.1,236.4 366.59,236.66 367.08,236.87 367.57,237.03 368.06,237.14 368.55,237.2 369.04,237.21 369.53,237.16 370.02,237.06 370.51,236.91 371,236.71 371.49,236.46 371.98,236.16 372.47,235.81 372.95,235.42 373.44,234.99 373.93,234.51 374.42,234 374.91,233.45 375.4,232.86 375.89,232.25 376.38,231.6 376.87,230.92 377.36,230.21 377.85,229.48 378.34,228.73 378.83,227.95 379.32,227.16 379.81,226.34 380.3,225.5 380.79,224.65 381.28,223.78 381.77,222.9 382.26,222 382.75,221.09 383.24,220.17 383.73,219.24 384.22,218.29 384.7,217.34 385.19,216.38 385.68,215.41 386.17,214.42 386.66,213.44 387.15,212.44 387.64,211.44 388.13,210.43 388.62,209.42 389.11,208.39 389.6,207.37 390.09,206.34 390.58,205.3 391.07,204.26 391.56,204.04 392.05,205.07 392.54,206.1 393.03,207.13 393.52,208.15 394.01,209.17 394.5,210.18 394.99,211.19 395.48,212.19 395.97,213.18 396.45,214.17 396.94,215.15 397.43,216.12 397.92,217.08 398.41,218.03 398.9,218.97 399.39,219.91 399.88,220.83 400.37,221.74 400.86,222.63 401.35,223.51 401.84,224.37 402.33,225.22 402.82,226.05 403.31,226.86 403.8,227.65 404.29,228.41 404.78,229.15 405.27,229.87 405.76,230.55 406.25,231.21 406.74,231.83 407.23,232.42 407.72,232.97 408.2,233.48 408.69,233.94 409.18,234.36 409.67,234.74 410.16,235.06 410.65,235.34 411.14,235.56 411.63,235.72 412.12,235.83 412.61,235.88 413.1,235.88 413.59,235.82 414.08,235.7 414.57,235.52 415.06,235.29 415.55,235.01 416.04,234.67 416.53,234.29 417.02,233.86 417.51,233.38 418,232.86 418.49,232.3 418.98,231.71 419.47,231.08 419.95,230.41 420.44,229.72 420.93,228.99 421.42,228.24 421.91,227.46 422.4,226.66 422.89,225.84 423.38,225 423.87,224.14 424.36,223.27 424.85,222.37 425.34,221.47 425.83,220.54 426.32,219.61 426.81,218.66 427.3,217.7 427.79,216.74 428.28,215.76 428.77,214.77 429.26,213.77 429.75,212.77 430.24,211.76 430.73,210.74 431.22,209.71 431.7,208.68 432.19,207.64 432.68,206.6 433.17,205.55 433.66,204.5 434.15,203.44 434.64,202.38 435.13,201.32 435.62,200.25 436.11,199.17M44.44,187.94 44.93,188.15 45.42,188.46 45.91,188.83 46.4,189.28 46.89,189.78 47.38,190.34 47.87,190.93 48.36,191.57 48.85,192.24 49.34,192.81 49.83,193.18 50.32,193.61 50.81,194.1 51.3,194.64 51.79,195.23 52.28,195.86 52.77,196.54 53.26,197.24 53.75,197.98 54.24,198.74 54.73,199.52 55.22,200.32 55.7,201.14 56.19,201.97 56.68,202.82 57.17,203.67 57.66,204.54 58.15,205.41 58.64,206.29 59.13,207.17 59.62,208.06 60.11,208.96 60.6,209.85 61.09,210.75 61.58,211.64 62.07,212.54 62.56,213.44 63.05,214.34 63.54,215.23 64.03,216.13 64.52,217.02 65.01,217.91 65.5,218.79 65.99,219.68 66.48,220.56 66.97,221.44 67.45,222.31 67.94,223.38 68.43,224.51 68.92,225.64 69.41,226.78 69.9,227.91 70.39,229.04 70.88,230.17 71.37,231.29 71.86,232.42 72.35,233.54 72.84,234.66 73.33,235.78 73.82,236.89 74.31,237.99 74.8,239.09 75.29,240.19 75.78,241.28 76.27,242.36 76.76,243.42 77.25,244.48 77.74,245.53 78.23,246.56 78.72,247.57 79.2,248.57 79.69,249.55 80.18,250.51 80.67,251.45 81.16,252.38 81.65,253.28 82.14,254.16 82.63,255.27 83.12,256.47 83.61,257.66 84.1,258.85 84.59,260.04 85.08,261.22 85.57,262.4 86.06,263.57 86.55,264.74 87.04,265.89 87.53,267.04 88.02,268.17 88.51,269.28 89,270.36 89.49,271.42 89.98,272.43 90.47,273.41 90.95,274.34 91.44,275.24 91.93,276.09 92.42,276.91 92.91,277.7 93.4,278.46 93.89,279.2 94.38,279.9 94.87,280.58 95.36,281.23 95.85,281.85 96.34,282.45 96.83,283.01 97.32,283.55 97.81,284.06 98.3,284.53 98.79,284.98 99.28,285.39 99.77,285.76 100.26,286.1 100.75,286.4 101.24,286.66 101.73,286.88 102.22,287.06 102.7,287.2 103.19,287.3 103.68,287.35 104.17,287.36 104.66,287.33 105.15,287.24 105.64,287.12 106.13,286.94 106.62,286.72 107.11,286.46 107.6,286.15 108.09,285.8 108.58,285.4 109.07,284.96 109.56,284.48 110.05,283.96 110.54,283.41 111.03,282.81 111.52,282.19 112.01,281.53 112.5,280.84 112.99,280.11 113.48,279.36 113.97,278.59 114.45,277.79 114.94,276.96 115.43,276.12 115.92,275.25 116.41,274.36 116.9,273.46 117.39,272.54 117.88,271.6 118.37,270.65 118.86,269.68 119.35,268.7 119.84,267.71 120.33,266.7 120.82,265.69 121.31,264.66 121.8,263.63 122.29,262.58 122.78,261.53 123.27,260.47 123.76,259.41 124.25,258.33 124.74,257.25 125.23,256.17 125.72,255.07 126.2,253.97 126.69,252.87 127.18,251.76 127.67,250.65 128.16,249.53 128.65,248.41 129.14,247.29 129.63,246.16 130.12,245.02 130.61,243.89 131.1,242.75 131.59,241.61 132.08,240.46 132.57,239.32 133.06,238.17 133.55,237.02 134.04,235.86 134.53,234.71 135.02,233.56 135.51,232.41 136,231.33 136.49,230.83 136.98,230.75 137.47,230.69 137.95,230.63 138.44,230.55 138.93,230.46 139.42,230.35 139.91,230.23 140.4,229.35 140.89,228.23 141.38,227.24 141.87,226.59 142.36,226.45 142.85,226.58 143.34,226.83 143.83,227.11 144.32,227.42 144.81,227.75 145.3,227.94 145.79,227.65 146.28,227.35 146.77,227.04 147.26,226.71 147.75,226.38 148.24,226.04 148.73,225.68 149.22,225.32 149.7,224.96 150.19,224.58 150.68,224.2 151.17,223.82 151.66,223.43 152.15,223.04 152.64,222.65 153.13,222.26 153.62,221.87 154.11,221.49 154.6,221.12 155.09,220.76 155.58,220.4 156.07,220.07 156.56,219.75 157.05,219.45 157.54,219.18 158.03,218.94 158.52,218.73 159.01,218.55 159.5,218.42 159.99,218.32 160.48,218.27 160.97,218.27 161.45,218.32 161.94,218.41 162.43,218.55 162.92,218.74 163.41,218.97 163.9,219.24 164.39,219.55 164.88,219.89 165.37,220.26 165.86,220.66 166.35,221.09 166.84,221.54 167.33,222 167.82,222.48 168.31,222.97 168.8,223.48 169.29,223.99 169.78,224.51 170.27,225.03 170.76,225.55 171.25,226.08 171.74,226.61 172.23,227.13 172.72,227.65 173.2,227.21 173.69,226.71 174.18,226.2 174.67,225.67 175.16,225.13 175.65,224.59 176.14,224.03 176.63,223.47 177.12,222.9 177.61,222.32 178.1,221.74 178.59,221.15 179.08,220.56 179.57,219.97 180.06,219.37 180.55,218.78 181.04,218.19 181.53,217.61 182.02,217.03 182.51,216.45 183,215.89 183.49,215.35 183.98,214.82 184.47,214.31 184.95,213.82 185.44,213.37 185.93,212.95 186.42,212.57 186.91,212.23 187.4,211.95 187.89,211.72 188.38,211.55 188.87,211.45 189.36,211.42 189.85,211.46 190.34,211.56 190.83,211.74 191.32,211.97 191.81,212.27 192.3,212.62 192.79,213.03 193.28,213.48 193.77,213.96 194.26,214.48 194.75,215.03 195.24,215.61 195.73,216.21 196.22,216.83 196.7,217.46 197.19,218.1 197.68,218.76 198.17,219.42 198.66,220.09 199.15,220.76 199.64,221.44 200.13,222.11 200.62,222.79 201.11,223.46 201.6,224.14 202.09,224.81 202.58,225.47 203.07,225.34 203.56,224.68 204.05,224.01 204.54,223.33 205.03,222.64 205.52,221.94 206.01,221.23 206.5,220.52 206.99,219.79 207.48,219.06 207.97,218.33 208.45,217.59 208.94,216.85 209.43,216.1 209.92,215.36 210.41,214.61 210.9,213.86 211.39,213.12 211.88,212.37 212.37,211.64 212.86,210.91 213.35,210.18 213.84,209.47 214.33,208.78 214.82,208.1 215.31,207.44 215.8,206.81 216.29,206.21 216.78,205.64 217.27,205.12 217.76,204.65 218.25,204.23 218.74,203.88 219.23,203.6 219.72,203.4 220.2,203.29 220.69,203.26 221.18,203.33 221.67,203.48 222.16,203.72 222.65,204.03 223.14,204.42 223.63,204.87 224.12,205.38 224.61,205.93 225.1,206.53 225.59,207.17 226.08,207.83 226.57,208.52 227.06,209.24 227.55,209.97 228.04,210.72 228.53,211.48 229.02,212.25 229.51,213.03 230,213.82 230.49,214.61 230.98,215.41 231.47,216.2 231.95,217 232.44,217.8 232.93,218.6 233.42,219.39 233.91,220.18 234.4,220.97 234.89,221.75 235.38,222.53 235.87,221.84 236.36,221.06 236.85,220.26 237.34,219.45 237.83,218.64 238.32,217.82 238.81,216.99 239.3,216.16 239.79,215.32 240.28,214.47 240.77,213.62 241.26,212.77 241.75,211.91 242.24,211.06 242.73,210.2 243.22,209.33 243.7,208.47 244.19,207.61 244.68,206.75 245.17,205.9 245.66,205.05 246.15,204.2 246.64,203.36 247.13,202.53 247.62,201.72 248.11,200.92 248.6,200.13 249.09,199.37 249.58,198.64 250.07,197.93 250.56,197.27 251.05,196.65 251.54,196.09 252.03,195.58 252.52,195.16 253.01,194.81 253.5,194.56 253.99,194.41 254.48,194.36 254.97,194.42 255.45,194.59 255.94,194.86 256.43,195.22 256.92,195.66 257.41,196.18 257.9,196.76 258.39,197.39 258.88,198.07 259.37,198.78 259.86,199.53 260.35,200.31 260.84,201.11 261.33,201.93 261.82,202.76 262.31,203.61 262.8,204.47 263.29,205.34 263.78,206.21 264.27,207.09 264.76,207.98 265.25,208.86 265.74,209.75 266.23,210.65 266.72,211.54 267.2,212.43 267.69,213.32 268.18,214.21 268.67,215.09 269.16,215.97 269.65,216.85 270.14,217.72 270.63,218.54 271.12,217.66 271.61,216.78 272.1,215.89 272.59,214.99 273.08,214.09 273.57,213.18 274.06,212.26 274.55,211.34 275.04,210.42 275.53,209.49 276.02,208.56 276.51,207.62 277,206.68 277.49,205.74 277.98,204.8 278.47,203.85 278.95,202.91 279.44,201.96 279.93,201.02 280.42,200.08 280.91,199.14 281.4,198.2 281.89,197.27 282.38,196.34 282.87,195.42 283.36,194.51 283.85,193.62 284.34,192.73 284.83,191.86 285.32,191.02 285.81,190.19 286.3,189.4 286.79,188.64 287.28,187.93 287.77,187.27 288.26,186.68 288.75,186.15 289.24,185.72 289.73,185.39 290.22,185.17 290.7,185.06 291.19,185.09 291.68,185.23 292.17,185.5 292.66,185.87 293.15,186.33 293.64,186.88 294.13,187.5 294.62,188.18 295.11,188.92 295.6,189.69 296.09,190.5 296.58,191.33 297.07,192.19 297.56,193.07 298.05,193.97 298.54,194.88 299.03,195.8 299.52,196.73 300.01,197.67 300.5,198.62 300.99,199.57 301.48,200.52 301.97,201.48 302.45,202.44 302.94,203.4 303.43,204.36 303.92,205.33 304.41,206.29 304.9,207.25 305.39,208.21 305.88,209.17 306.37,210.12 306.86,211.07 307.35,212.02 307.84,212.97 308.33,213.91 308.82,213.07 309.31,212.12 309.8,211.16 310.29,210.19 310.78,209.22 311.27,208.25 311.76,207.27 312.25,206.28 312.74,205.29 313.23,204.3 313.72,203.31 314.2,202.31 314.69,201.31 315.18,200.31 315.67,199.31 316.16,198.3 316.65,197.3 317.14,196.29 317.63,195.29 318.12,194.28 318.61,193.28 319.1,192.27 319.59,191.27 320.08,190.28 320.57,189.28 321.06,188.3 321.55,187.32 322.04,186.34 322.53,185.38 323.02,184.43 323.51,183.49 324,182.58 324.49,181.68 324.98,180.81 325.47,179.97 325.95,179.17 326.44,178.42 326.93,177.72 327.42,177.1 327.91,176.56 328.4,176.12 328.89,175.8 329.38,175.6 329.87,175.55 330.36,175.63 330.85,175.85 331.34,176.2 331.83,176.66 332.32,177.21 332.81,177.85 333.3,178.55 333.79,179.31 334.28,180.12 334.77,180.97 335.26,181.84 335.75,182.74 336.24,183.67 336.73,184.61 337.22,185.56 337.7,186.53 338.19,187.51 338.68,188.49 339.17,189.48 339.66,190.48 340.15,191.49 340.64,192.49 341.13,193.5 341.62,194.52 342.11,195.53 342.6,196.55 343.09,197.56 343.58,198.58 344.07,199.59 344.56,200.61 345.05,201.62 345.54,202.63 346.03,203.65 346.52,204.65 347.01,205.66 347.5,206.66 347.99,207.66 348.48,208.66 348.97,208.23 349.45,207.22 349.94,206.21 350.43,205.19 350.92,204.17 351.41,203.14 351.9,202.11 352.39,201.08 352.88,200.05 353.37,199.01 353.86,197.97 354.35,196.93 354.84,195.88 355.33,194.84 355.82,193.79 356.31,192.74 356.8,191.69 357.29,190.64 357.78,189.59 358.27,188.54 358.76,187.49 359.25,186.44 359.74,185.39 360.23,184.34 360.72,183.3 361.2,182.26 361.69,181.22 362.18,180.18 362.67,179.15 363.16,178.13 363.65,177.12 364.14,176.12 364.63,175.13 365.12,174.15 365.61,173.19 366.1,172.25 366.59,171.34 367.08,170.46 367.57,169.62 368.06,168.84 368.55,168.11 369.04,167.46 369.53,166.9 370.02,166.46 370.51,166.14 371,165.97 371.49,165.95 371.98,166.08 372.47,166.37 372.95,166.78 373.44,167.31 373.93,167.94 374.42,168.65 374.91,169.42 375.4,170.25 375.89,171.11 376.38,172.01 376.87,172.94 377.36,173.89 377.85,174.87 378.34,175.85 378.83,176.85 379.32,177.86 379.81,178.88 380.3,179.91 380.79,180.94 381.28,181.98 381.77,183.02 382.26,184.07 382.75,185.12 383.24,186.17 383.73,187.22 384.22,188.28 384.7,189.34 385.19,190.39 385.68,191.45 386.17,192.51 386.66,193.56 387.15,194.62 387.64,195.67 388.13,196.72 388.62,197.78 389.11,198.83 389.6,199.87 390.09,200.92 390.58,201.96 391.07,203 391.56,203.22 392.05,202.17 392.54,201.12 393.03,200.06 393.52,199 394.01,197.94 394.5,196.87 394.99,195.81 395.48,194.74 395.97,193.66 396.45,192.59 396.94,191.51 397.43,190.43 397.92,189.35 398.41,188.27 398.9,187.19 399.39,186.11 399.88,185.02 400.37,183.94 400.86,182.85 401.35,181.77 401.84,180.68 402.33,179.6 402.82,178.51 403.31,177.43 403.8,176.35 404.29,175.27 404.78,174.19 405.27,173.12 405.76,172.05 406.25,170.99 406.74,169.93 407.23,168.87 407.72,167.83 408.2,166.79 408.69,165.77 409.18,164.76 409.67,163.77 410.16,162.8 410.65,161.85 411.14,160.94 411.63,160.07 412.12,159.24M418.49,159.35 418.98,160.17 419.47,161.05 419.95,161.96 420.44,162.91 420.93,163.88 421.42,164.87 421.91,165.88 422.4,166.9 422.89,167.93 423.38,168.98 423.87,170.03 424.36,171.09 424.85,172.15 425.34,173.22 425.83,174.3 426.32,175.37 426.81,176.45 427.3,177.53 427.79,178.62 428.28,179.7 428.77,180.79 429.26,181.88 429.75,182.96 430.24,184.05 430.73,185.14 431.22,186.23 431.7,187.32 432.19,188.4 432.68,189.49 433.17,190.57 433.66,191.66 434.15,192.74 434.64,193.82 435.13,194.9 435.62,195.98 436.11,197.05M44.44,187.94 44.93,187.8 45.42,187.73 45.91,187.74 46.4,187.8 46.89,187.92 47.38,188.08 47.87,188.28 48.36,188.51 48.85,188.78 49.34,189.07 49.83,189.4 50.32,189.75 50.81,190.14 51.3,190.56 51.79,191.01 52.28,191.5 52.77,192.04 53.26,192.62 53.75,193.26 54.24,193.96 54.73,194.73 55.22,195.55 55.7,196.42 56.19,197.33 56.68,198.29 57.17,199.27 57.66,200.27 58.15,201.3 58.64,202.34 59.13,203.39 59.62,204.46 60.11,205.53 60.6,206.61 61.09,207.71 61.58,208.8 62.07,209.91 62.56,211.01 63.05,212.12 63.54,213.24 64.03,214.36 64.52,215.48 65.01,216.6 65.5,217.73 65.99,218.86 66.48,219.99 66.97,221.12 67.45,222.25 67.94,223.18 68.43,224.05 68.92,224.91 69.41,225.77 69.9,226.63 70.39,227.48 70.88,228.34 71.37,229.2 71.86,230.07 72.35,230.96 72.84,231.89 73.33,232.87 73.82,233.92 74.31,235.03 74.8,236.17 75.29,237.33 75.78,238.51 76.27,239.69 76.76,240.88 77.25,242.08 77.74,243.28 78.23,244.48 78.72,245.68 79.2,246.88 79.69,248.08 80.18,249.28 80.67,250.48 81.16,251.68 81.65,252.88 82.14,254.08 82.63,255.02 83.12,255.86 83.61,256.68 84.1,257.48 84.59,258.26 85.08,259.02 85.57,259.77 86.06,260.5 86.55,261.2 87.04,261.89 87.53,262.57 88.02,263.22 88.51,263.85 89,264.47 89.49,265.06 89.98,265.63 90.47,266.19 90.95,266.72 91.44,267.23 91.93,267.72 92.42,268.19 92.91,268.63 93.4,269.05 93.89,269.45 94.38,269.82 94.87,270.17 95.36,270.49 95.85,270.78 96.34,271.05 96.83,271.29 97.32,271.5 97.81,271.69 98.3,271.84 98.79,271.97 99.28,272.07 99.77,272.13 100.26,272.17 100.75,272.18 101.24,272.16 101.73,272.1 102.22,272.02 102.7,271.9 103.19,271.76 103.68,271.58 104.17,271.37 104.66,271.14 105.15,270.87 105.64,270.57 106.13,270.25 106.62,269.89 107.11,269.51 107.6,269.1 108.09,268.66 108.58,268.2 109.07,267.71 109.56,267.19 110.05,266.65 110.54,266.08 111.03,265.5 111.52,264.88 112.01,264.25 112.5,263.6 112.99,262.92 113.48,262.23 113.97,261.52 114.45,260.79 114.94,260.04 115.43,259.27 115.92,258.49 116.41,257.69 116.9,256.88 117.39,256.06 117.88,255.22 118.37,254.36 118.86,253.5 119.35,252.62 119.84,251.73 120.33,250.83 120.82,249.92 121.31,249.01 121.8,248.08 122.29,247.14 122.78,246.2 123.27,245.24 123.76,244.28 124.25,243.32 124.74,242.35 125.23,241.37 125.72,240.39 126.2,239.4 126.69,238.41 127.18,237.42 127.67,236.43 128.16,235.44 128.65,234.44 129.14,233.46 129.63,232.48 130.12,231.51 130.61,230.56 131.1,230.19 131.59,230.3 132.08,230.39 132.57,230.48 133.06,230.56 133.55,230.62 134.04,230.67 134.53,230.71 135.02,230.72 135.51,230.72 136,230.64 136.49,229.95 136.98,228.84 137.47,227.68 137.95,226.52 138.44,225.35 138.93,224.18 139.42,224.33 139.91,224.49 140.4,224.66 140.89,224.81 141.38,224.85 141.87,224.56 142.36,223.79 142.85,222.74 143.34,221.6 143.83,220.42 144.32,219.23 144.81,218.03 145.3,216.82 145.79,215.61 146.28,214.4 146.77,213.18 147.26,211.96 147.75,210.74 148.24,209.52 148.73,208.3 149.22,207.08 149.7,205.86 150.19,204.63 150.68,203.41 151.17,202.19 151.66,200.97 152.15,199.74 152.64,198.52 153.13,197.29 153.62,196.07 154.11,194.85 154.6,194.06 155.09,194.42 155.58,194.78 156.07,195.15 156.56,195.51 157.05,195.85 157.54,196.16 158.03,196.45 158.52,196.71 159.01,196.92 159.5,197.09 159.99,197.21 160.48,197.28 160.97,197.3 161.45,197.26 161.94,197.17 162.43,197.02 162.92,196.81 163.41,196.56 163.9,196.25 164.39,195.9 164.88,195.5 165.37,195.06 165.86,194.58 166.35,194.07 166.84,193.53 167.33,192.95 167.82,192.35 168.31,191.72 168.8,191.08 169.29,190.41 169.78,189.72 170.27,189.01 170.76,188.29 171.25,187.55 171.74,186.8 172.23,186.03 172.72,185.25 173.2,184.47 173.69,183.67 174.18,182.86 174.67,182.04 175.16,181.21 175.65,180.38 176.14,179.53 176.63,178.68 177.12,177.83 177.61,177.31 178.1,178.06 178.59,178.8 179.08,179.54 179.57,180.27 180.06,181.01 180.55,181.74 181.04,182.46 181.53,183.17 182.02,183.86 182.51,184.55 183,185.21 183.49,185.85 183.98,186.48 184.47,187.07 184.95,187.63 185.44,188.15 185.93,188.64 186.42,189.07 186.91,189.46 187.4,189.78 187.89,190.04 188.38,190.24 188.87,190.36 189.36,190.4 189.85,190.37 190.34,190.26 190.83,190.07 191.32,189.82 191.81,189.49 192.3,189.1 192.79,188.66 193.28,188.16 193.77,187.61 194.26,187.02 194.75,186.4 195.24,185.73 195.73,185.04 196.22,184.32 196.7,183.58 197.19,182.81 197.68,182.03 198.17,181.22 198.66,180.4 199.15,179.57 199.64,178.72 200.13,177.86 200.62,176.99 201.11,176.1 201.6,175.21 202.09,174.31 202.58,173.4 203.07,172.49 203.56,171.56 204.05,170.63 204.54,169.69 205.03,168.75 205.52,167.8 206.01,166.85 206.5,165.89 206.99,164.93 207.48,165.13 207.97,166.02 208.45,166.9 208.94,167.79 209.43,168.67 209.92,169.54 210.41,170.41 210.9,171.27 211.39,172.13 211.88,172.97 212.37,173.81 212.86,174.63 213.35,175.43 213.84,176.22 214.33,176.99 214.82,177.74 215.31,178.46 215.8,179.15 216.29,179.8 216.78,180.41 217.27,180.97 217.76,181.47 218.25,181.92 218.74,182.29 219.23,182.58 219.72,182.79 220.2,182.91 220.69,182.93 221.18,182.86 221.67,182.7 222.16,182.44 222.65,182.1 223.14,181.69 223.63,181.2 224.12,180.66 224.61,180.05 225.1,179.4 225.59,178.71 226.08,177.97 226.57,177.21 227.06,176.42 227.55,175.6 228.04,174.76 228.53,173.9 229.02,173.02 229.51,172.13 230,171.22 230.49,170.3 230.98,169.37 231.47,168.43 231.95,167.48 232.44,166.52 232.93,165.56 233.42,164.58 233.91,163.6 234.4,162.61 234.89,161.62 235.38,160.62 235.87,159.62M243.22,159.12 243.7,160.07 244.19,161.02 244.68,161.96 245.17,162.89 245.66,163.81 246.15,164.72 246.64,165.62 247.13,166.51 247.62,167.38 248.11,168.23 248.6,169.05 249.09,169.86 249.58,170.63 250.07,171.36 250.56,172.05 251.05,172.69 251.54,173.27 252.03,173.79 252.52,174.23 253.01,174.58 253.5,174.83 253.99,174.98 254.48,175.02 254.97,174.95 255.45,174.77 255.94,174.48 256.43,174.1 256.92,173.63 257.41,173.08 257.9,172.47 258.39,171.8 258.88,171.08 259.37,170.31 259.86,169.51 260.35,168.68 260.84,167.82 261.33,166.93 261.82,166.03 262.31,165.1 262.8,164.16 263.29,163.21 263.78,162.24 264.27,161.27 264.76,160.28 265.25,159.29M284.34,158.99 284.83,159.89 285.32,160.76 285.81,161.6 286.3,162.42 286.79,163.19 287.28,163.91 287.77,164.58 288.26,165.19 288.75,165.71 289.24,166.15 289.73,166.48 290.22,166.69 290.7,166.79 291.19,166.75 291.68,166.6 292.17,166.32 292.66,165.93 293.15,165.44 293.64,164.86 294.13,164.21 294.62,163.5 295.11,162.73 295.6,161.92 296.09,161.08 296.58,160.2 297.07,159.29M44.44,185.87 44.93,186.08 45.42,186.29 45.91,186.51 46.4,186.73 46.89,186.96 47.38,187.2 47.87,187.45 48.36,187.7 48.85,187.94 49.34,188.19 49.83,188.43 50.32,188.66 50.81,188.88 51.3,189.1 51.79,189.31 52.28,189.53 52.77,189.74 53.26,190.12 53.75,190.87 54.24,191.61 54.73,192.34 55.22,193.06 55.7,193.78 56.19,194.49 56.68,195.2 57.17,195.92 57.66,196.64 58.15,197.36 58.64,198.09 59.13,198.83 59.62,199.58 60.11,200.33 60.6,201.08 61.09,202.07 61.58,203.26 62.07,204.45 62.56,205.65 63.05,206.85 63.54,208.04 64.03,209.24 64.52,210.44 65.01,211.65 65.5,212.85 65.99,214.05 66.48,215.25 66.97,216.46 67.45,217.66 67.94,218.86 68.43,220.06 68.92,221.26 69.41,222.46 69.9,223.66 70.39,224.85 70.88,226.03 71.37,227.2 71.86,228.36 72.35,229.49 72.84,230.57 73.33,231.59 73.82,232.53 74.31,233.41 74.8,234.25 75.29,235.06 75.78,235.84 76.27,236.6 76.76,237.35 77.25,238.08 77.74,238.8 78.23,239.51 78.72,240.2 79.2,240.88 79.69,241.55 80.18,242.21 80.67,242.85 81.16,243.48 81.65,244.1 82.14,244.7 82.63,245.29 83.12,245.86 83.61,246.42 84.1,246.96 84.59,247.49 85.08,248.01 85.57,248.5 86.06,248.99 86.55,249.45 87.04,249.9 87.53,250.33 88.02,250.74 88.51,251.14 89,251.51 89.49,251.87 89.98,252.21 90.47,252.53 90.95,252.83 91.44,253.11 91.93,253.37 92.42,253.61 92.91,253.83 93.4,254.02 93.89,254.2 94.38,254.35 94.87,254.48 95.36,254.59 95.85,254.68 96.34,254.75 96.83,254.79 97.32,254.81 97.81,254.81 98.3,254.78 98.79,254.73 99.28,254.66 99.77,254.57 100.26,254.45 100.75,254.31 101.24,254.15 101.73,253.97 102.22,253.76 102.7,253.53 103.19,253.28 103.68,253.01 104.17,252.71 104.66,252.39 105.15,252.06 105.64,251.7 106.13,251.32 106.62,250.92 107.11,250.5 107.6,250.06 108.09,249.6 108.58,249.12 109.07,248.63 109.56,248.12 110.05,247.59 110.54,247.04 111.03,246.47 111.52,245.89 112.01,245.3 112.5,244.69 112.99,244.06 113.48,243.42 113.97,242.77 114.45,242.1 114.94,241.42 115.43,240.73 115.92,240.03 116.41,239.32 116.9,238.6 117.39,237.87 117.88,237.14 118.37,236.4 118.86,235.66 119.35,234.91 119.84,234.17 120.33,233.44 120.82,232.72 121.31,232.02 121.8,231.35 122.29,230.74 122.78,230.18 123.27,229.72 123.76,229.36 124.25,229.11 124.74,228.97 125.23,228.91 125.72,228.91 126.2,228.97 126.69,229.05 127.18,229.16 127.67,229.28 128.16,229.42 128.65,229.55 129.14,229.69 129.63,229.82 130.12,229.95 130.61,230.07 131.1,229.62 131.59,228.72 132.08,227.86 132.57,227.06 133.06,226.33 133.55,225.7 134.04,225.17 134.53,224.74 135.02,224.42 135.51,224.19 136,224.03 136.49,223.94 136.98,223.9 137.47,223.91 137.95,223.97 138.44,224.06 138.93,224.18 139.42,223.01 139.91,221.83 140.4,220.66 140.89,219.48 141.38,218.31 141.87,217.13 142.36,215.95 142.85,214.77 143.34,213.59 143.83,212.41 144.32,211.23 144.81,210.05 145.3,208.87 145.79,207.69 146.28,206.52 146.77,205.34 147.26,204.17 147.75,203.01 148.24,201.85 148.73,200.69 149.22,199.55 149.7,198.43 150.19,197.33 150.68,196.28 151.17,195.3 151.66,194.45 152.15,193.81 152.64,193.45 153.13,193.37 153.62,193.5 154.11,193.75 154.6,193.62 155.09,192.4 155.58,191.17 156.07,189.95 156.56,188.73 157.05,187.5 157.54,186.28 158.03,185.06 158.52,183.84 159.01,182.62 159.5,181.4 159.99,180.18 160.48,178.97 160.97,177.76 161.45,176.55 161.94,175.36 162.43,174.18 162.92,173.03 163.41,171.93 163.9,170.92 164.39,170.05 164.88,169.34 165.37,168.75 165.86,168.27 166.35,167.88 166.84,167.58 167.33,167.37 167.82,167.26 168.31,167.23 168.8,167.3 169.29,167.46 169.78,167.7 170.27,168.01 170.76,168.39 171.25,168.83 171.74,169.32 172.23,169.85 172.72,170.43 173.2,171.03 173.69,171.66 174.18,172.32 174.67,173 175.16,173.69 175.65,174.4 176.14,175.12 176.63,175.84 177.12,176.58 177.61,176.97 178.1,176.1 178.59,175.23 179.08,174.35 179.57,173.46 180.06,172.58 180.55,171.69 181.04,170.79 181.53,169.89 182.02,168.99 182.51,168.09 183,167.19 183.49,166.28 183.98,165.38 184.47,164.47 184.95,163.56 185.44,162.66 185.93,161.76 186.42,160.86 186.91,159.96 187.4,159.07M204.05,158.97 204.54,159.84 205.03,160.71 205.52,161.59 206.01,162.48 206.5,163.36 206.99,164.25 207.48,163.97 207.97,163 208.45,162.02 208.94,161.05 209.43,160.07 209.92,159.09M44.44,185.87 44.93,185.66 45.42,185.47 45.91,185.31 46.4,185.17 46.89,185.09 47.38,185.05 47.87,185.08 48.36,185.18 48.85,185.34 49.34,185.59 49.83,185.92 50.32,186.33 50.81,186.82 51.3,187.38 51.79,188 52.28,188.68 52.77,189.39 53.26,189.97 53.75,190.19 54.24,190.43 54.73,190.68 55.22,190.95 55.7,191.25 56.19,191.6 56.68,192.1 57.17,192.9 57.66,193.93 58.15,195.04 58.64,196.19 59.13,197.35 59.62,198.52 60.11,199.7 60.6,200.88 61.09,201.84 61.58,202.6 62.07,203.36 62.56,204.12 63.05,204.88 63.54,205.65 64.03,206.41 64.52,207.17 65.01,207.92 65.5,208.68 65.99,209.43 66.48,210.18 66.97,210.92 67.45,211.66 67.94,212.39 68.43,213.12 68.92,213.85 69.41,214.56 69.9,215.27 70.39,215.98 70.88,216.67 71.37,217.36 71.86,218.05 72.35,218.72 72.84,219.39 73.33,220.04 73.82,220.69 74.31,221.33 74.8,221.96 75.29,222.58 75.78,223.19 76.27,223.79 76.76,224.38 77.25,224.96 77.74,225.53 78.23,226.09 78.72,226.63 79.2,227.16 79.69,227.69 80.18,228.2 80.67,228.69 81.16,229.18 81.65,229.65 82.14,230.1 82.63,230.55 83.12,230.98 83.61,231.39 84.1,231.8 84.59,232.18 85.08,232.55 85.57,232.91 86.06,233.25 86.55,233.58 87.04,233.89 87.53,234.18 88.02,234.46 88.51,234.72 89,234.97 89.49,235.2 89.98,235.41 90.47,235.6 90.95,235.78 91.44,235.94 91.93,236.08 92.42,236.21 92.91,236.31 93.4,236.4 93.89,236.47 94.38,236.52 94.87,236.56 95.36,236.57 95.85,236.57 96.34,236.55 96.83,236.51 97.32,236.46 97.81,236.38 98.3,236.29 98.79,236.17 99.28,236.04 99.77,235.89 100.26,235.73 100.75,235.54 101.24,235.34 101.73,235.12 102.22,234.88 102.7,234.63 103.19,234.35 103.68,234.06 104.17,233.76 104.66,233.43 105.15,233.09 105.64,232.73 106.13,232.36 106.62,231.97 107.11,231.57 107.6,231.15 108.09,230.71 108.58,230.26 109.07,229.8 109.56,229.32 110.05,228.83 110.54,228.32 111.03,227.81 111.52,227.28 112.01,226.75 112.5,226.22 112.99,225.73 113.48,225.46 113.97,225.45 114.45,225.51 114.94,225.58 115.43,225.65 115.92,225.71 116.41,225.75 116.9,225.79 117.39,225.82 117.88,225.84 118.37,225.84 118.86,225.83 119.35,225.81 119.84,225.78 120.33,225.74 120.82,225.69 121.31,225.62 121.8,225.55 122.29,225.46 122.78,225.36 123.27,225.25 123.76,225.13 124.25,225 124.74,224.86 125.23,224.71 125.72,224.55 126.2,224.39 126.69,224.21 127.18,224.03 127.67,223.84 128.16,223.64 128.65,223.43 129.14,223.21 129.63,222.99 130.12,222.75 130.61,222.5 131.1,222.23 131.59,221.93 132.08,221.59 132.57,221.21 133.06,220.77 133.55,220.24 134.04,219.63 134.53,218.92 135.02,218.14 135.51,217.28 136,216.37 136.49,215.42 136.98,214.43 137.47,213.41 137.95,212.38 138.44,211.33 138.93,210.27 139.42,209.19 139.91,208.11 140.4,207.02 140.89,205.92 141.38,204.81 141.87,203.7 142.36,202.59 142.85,201.47 143.34,200.36 143.83,199.24 144.32,198.14 144.81,197.37 145.3,196.79 145.79,196.21 146.28,195.62 146.77,195.01 147.26,194.39 147.75,193.76 148.24,193.11 148.73,192.45 149.22,191.78 149.7,191.1 150.19,190.41 150.68,189.71 151.17,189.14 151.66,189.23 152.15,189.13 152.64,188.75 153.13,188.1 153.62,187.24 154.11,186.26 154.6,185.2 155.09,184.1 155.58,182.97 156.07,181.82 156.56,180.79 157.05,180.02 157.54,179.25 158.03,178.48 158.52,177.71 159.01,176.94 159.5,176.17 159.99,175.41 160.48,174.65 160.97,173.9 161.45,173.15 161.94,172.41 162.43,171.67 162.92,170.93 163.41,170.16 163.9,169.33 164.39,168.4 164.88,167.36 165.37,166.24 165.86,165.08 166.35,163.9 166.84,162.7 167.33,161.49 167.82,160.28 168.31,159.06M44.44,174.57 44.93,174.88 45.42,175.29 45.91,175.78 46.4,176.33 46.89,176.93 47.38,177.56 47.87,178.22 48.36,178.9 48.85,179.59 49.34,180.27 49.83,180.95 50.32,181.62 50.81,182.26 51.3,182.9 51.79,183.51 52.28,184.11 52.77,184.69 53.26,185.27 53.75,185.83 54.24,186.38 54.73,186.93 55.22,187.91 55.7,188.99 56.19,190.04 56.68,190.97 57.17,191.61 57.66,192.05 58.15,192.43 58.64,192.79 59.13,193.16 59.62,193.53 60.11,193.92 60.6,194.33 61.09,194.75 61.58,195.19 62.07,195.65 62.56,196.13 63.05,196.62 63.54,197.12 64.03,197.65 64.52,198.18 65.01,198.73 65.5,199.28 65.99,199.84 66.48,200.41 66.97,200.98 67.45,201.56 67.94,202.13 68.43,202.71 68.92,203.29 69.41,203.86 69.9,204.44 70.39,205.01 70.88,205.58 71.37,206.14 71.86,206.7 72.35,207.25 72.84,207.8 73.33,208.34 73.82,208.88 74.31,209.41 74.8,209.93 75.29,210.44 75.78,210.95 76.27,211.45 76.76,211.94 77.25,212.42 77.74,212.89 78.23,213.36 78.72,213.81 79.2,214.26 79.69,214.69 80.18,215.11 80.67,215.53 81.16,215.93 81.65,216.32 82.14,216.7 82.63,217.07 83.12,217.43 83.61,217.78 84.1,218.11 84.59,218.43 85.08,218.74 85.57,219.04 86.06,219.32 86.55,219.59 87.04,219.85 87.53,220.1 88.02,220.33 88.51,220.55 89,220.76 89.49,220.95 89.98,221.13 90.47,221.3 90.95,221.45 91.44,221.59 91.93,221.72 92.42,221.84 92.91,221.94 93.4,222.03 93.89,222.11 94.38,222.17 94.87,222.23 95.36,222.28 95.85,222.32 96.34,222.34 96.83,222.37 97.32,222.39 97.81,222.4 98.3,222.41 98.79,222.42 99.28,222.44 99.77,222.45 100.26,222.47 100.75,222.49 101.24,222.52 101.73,222.55 102.22,222.58 102.7,222.61 103.19,222.65 103.68,222.68 104.17,222.71 104.66,222.74 105.15,222.77 105.64,222.79 106.13,222.81 106.62,222.83 107.11,223.01 107.6,223.22 108.09,223.42 108.58,223.62 109.07,223.82 109.56,224 110.05,224.18 110.54,224.35 111.03,224.51 111.52,224.66 112.01,224.8 112.5,224.9 112.99,224.95 113.48,224.75 113.97,224.27 114.45,223.71 114.94,223.12 115.43,223.18 115.92,223.25 116.41,223.33 116.9,223.43 117.39,223.53 117.88,223.63 118.37,223.75 118.86,223.87 119.35,223.99 119.84,224.1 120.33,224.21 120.82,224.31 121.31,224.38 121.8,224.42 122.29,224.4 122.78,224.31 123.27,224.13 123.76,223.84 124.25,223.44 124.74,222.92 125.23,222.3 125.72,221.61 126.2,220.86 126.69,220.07 127.18,219.25 127.67,218.4 128.16,217.52 128.65,216.63 129.14,215.73 129.63,214.81 130.12,213.88 130.61,212.95 131.1,212 131.59,211.05 132.08,210.1 132.57,209.14 133.06,208.18 133.55,207.21 134.04,206.24 134.53,205.27 135.02,204.3 135.51,203.33 136,203.16 136.49,203.08 136.98,202.97 137.47,202.84 137.95,202.67 138.44,202.48 138.93,202.25 139.42,201.99 139.91,201.7 140.4,201.38 140.89,201.03 141.38,200.65 141.87,200.25 142.36,199.81 142.85,199.36 143.34,198.88 143.83,198.37 144.32,197.82 144.81,196.92 145.3,195.81 145.79,194.68 146.28,193.54 146.77,192.4 147.26,191.26 147.75,190.11 148.24,188.97 148.73,187.92 149.22,188.16 149.7,188.42 150.19,188.68 150.68,188.93 151.17,189.01 151.66,188.29 152.15,187.57 152.64,186.83 153.13,186.1 153.62,185.35 154.11,184.6 154.6,183.85 155.09,183.09 155.58,182.33 156.07,181.56 156.56,180.66 157.05,179.49 157.54,178.31 158.03,177.13 158.52,175.94 159.01,174.75 159.5,173.55 159.99,172.36 160.48,171.16 160.97,169.96 161.45,168.76 161.94,167.55 162.43,166.35 162.92,165.14 163.41,163.94 163.9,162.73 164.39,161.52 164.88,160.32 165.37,159.11M44.44,174.57 44.93,174.37 45.42,174.29 45.91,174.33 46.4,174.49 46.89,174.74 47.38,175.09 47.87,175.52 48.36,176 48.85,176.55 49.34,177.14 49.83,177.78 50.32,178.47 50.81,179.21 51.3,180 51.79,180.84 52.28,181.74 52.77,182.68 53.26,183.67 53.75,184.7 54.24,185.75 54.73,186.82 55.22,187.46 55.7,187.99 56.19,188.51 56.68,189.02 57.17,189.52 57.66,190.02 58.15,190.51 58.64,190.99 59.13,191.47 59.62,191.95 60.11,192.42 60.6,192.89 61.09,193.36 61.58,193.83 62.07,194.3 62.56,194.76 63.05,195.23 63.54,195.69 64.03,196.16 64.52,196.62 65.01,197.09 65.5,197.55 65.99,198.02 66.48,198.48 66.97,198.95 67.45,199.41 67.94,199.88 68.43,200.34 68.92,200.8 69.41,201.26 69.9,201.72 70.39,202.18 70.88,202.64 71.37,203.09 71.86,203.55 72.35,204 72.84,204.45 73.33,204.89 73.82,205.33 74.31,205.77 74.8,206.21 75.29,206.64 75.78,207.07 76.27,207.49 76.76,207.91 77.25,208.33 77.74,208.74 78.23,209.14 78.72,209.54 79.2,209.93 79.69,210.32 80.18,210.7 80.67,211.08 81.16,211.45 81.65,211.81 82.14,212.17 82.63,212.51 83.12,212.85 83.61,213.19 84.1,213.51 84.59,213.83 85.08,214.14 85.57,214.44 86.06,214.74 86.55,215.02 87.04,215.3 87.53,215.57 88.02,215.83 88.51,216.08 89,216.32 89.49,216.55 89.98,216.78 90.47,217 90.95,217.21 91.44,217.41 91.93,217.6 92.42,217.79 92.91,217.97 93.4,218.14 93.89,218.3 94.38,218.46 94.87,218.62 95.36,218.77 95.85,218.91 96.34,219.06 96.83,219.2 97.32,219.34 97.81,219.48 98.3,219.62 98.79,219.77 99.28,219.92 99.77,220.07 100.26,220.23 100.75,220.4 101.24,220.57 101.73,220.75 102.22,220.94 102.7,221.13 103.19,221.33 103.68,221.53 104.17,221.74 104.66,221.95 105.15,222.16 105.64,222.37 106.13,222.59 106.62,222.8 107.11,222.84 107.6,222.85 108.09,222.86 108.58,222.87 109.07,222.88 109.56,222.88 110.05,222.88 110.54,222.89 111.03,222.9 111.52,222.9 112.01,222.92 112.5,222.93 112.99,222.96 113.48,222.98 113.97,223.02 114.45,223.06 114.94,223.1 115.43,222.48 115.92,221.85 116.41,221.21 116.9,220.55 117.39,219.89 117.88,219.21 118.37,218.53 118.86,217.85 119.35,217.15 119.84,216.45 120.33,215.74 120.82,215.03 121.31,214.32 121.8,213.6 122.29,212.89 122.78,212.17 123.27,211.46 123.76,210.75 124.25,210.05 124.74,209.36 125.23,208.68 125.72,208.02 126.2,207.39 126.69,206.78 127.18,206.2 127.67,205.67 128.16,205.18 128.65,204.75 129.14,204.38 129.63,204.06 130.12,203.81 130.61,203.62 131.1,203.48 131.59,203.38 132.08,203.32 132.57,203.29 133.06,203.28 133.55,203.27 134.04,203.27 134.53,203.26 135.02,203.25 135.51,203.21 136,202.35 136.49,201.39 136.98,200.42 137.47,199.46 137.95,198.51 138.44,197.56 138.93,196.63 139.42,195.71 139.91,194.81 140.4,193.93 140.89,193.08 141.38,192.26 141.87,191.48 142.36,190.74 142.85,190.07 143.34,189.46 143.83,188.91 144.32,188.45 144.81,188.08 145.3,187.79 145.79,187.59 146.28,187.47 146.77,187.43 147.26,187.46 147.75,187.56 148.24,187.72 148.73,187.82 149.22,186.67 149.7,185.51 150.19,184.36 150.68,183.21 151.17,182.05 151.66,180.9 152.15,179.74 152.64,178.58 153.13,177.42 153.62,176.26 154.11,175.1 154.6,173.94 155.09,172.79 155.58,171.63 156.07,170.47 156.56,169.31 157.05,168.15 157.54,167 158.03,165.84 158.52,164.69 159.01,163.54 159.5,162.4 159.99,161.26 160.48,160.14 160.97,159.02M44.44,168.65 44.93,168.84 45.42,169.08 45.91,169.36 46.4,169.68 46.89,170.03 47.38,170.4 47.87,170.8 48.36,171.24 48.85,172.12 49.34,173.04 49.83,173.97 50.32,174.9 50.81,175.83 51.3,176.73 51.79,177.61 52.28,178.45 52.77,179.26 53.26,180.04 53.75,180.79 54.24,181.52 54.73,182.23 55.22,182.93 55.7,183.62 56.19,184.29 56.68,184.96 57.17,185.61 57.66,186.26 58.15,186.9 58.64,187.53 59.13,188.15 59.62,188.76 60.11,189.35 60.6,189.94 61.09,190.51 61.58,191.07 62.07,191.61 62.56,192.14 63.05,192.66 63.54,193.16 64.03,193.65 64.52,194.13 65.01,194.61 65.5,195.07 65.99,195.53 66.48,195.98 66.97,196.43 67.45,196.87 67.94,197.32 68.43,197.76 68.92,198.2 69.41,198.63 69.9,199.07 70.39,199.51 70.88,199.94 71.37,200.38 71.86,200.82 72.35,201.25 72.84,201.69 73.33,202.13 73.82,202.56 74.31,203 74.8,203.44 75.29,203.87 75.78,204.31 76.27,204.74 76.76,205.17 77.25,205.61 77.74,206.04 78.23,206.46 78.72,206.89 79.2,207.32 79.69,207.74 80.18,208.16 80.67,208.58 81.16,208.99 81.65,209.4 82.14,209.81 82.63,210.22 83.12,210.62 83.61,211.02 84.1,211.41 84.59,211.8 85.08,212.18 85.57,212.56 86.06,212.93 86.55,213.3 87.04,213.66 87.53,214.01 88.02,214.36 88.51,214.7 89,215.03 89.49,215.36 89.98,215.68 90.47,215.99 90.95,216.29 91.44,216.58 91.93,216.86 92.42,217.14 92.91,217.4 93.4,217.65 93.89,217.89 94.38,218.12 94.87,218.33 95.36,218.53 95.85,218.72 96.34,218.88 96.83,219.03 97.32,219.16 97.81,219.27 98.3,219.36 98.79,219.42 99.28,219.46 99.77,219.47 100.26,219.45 100.75,219.41 101.24,219.33 101.73,219.23 102.22,219.1 102.7,218.95 103.19,218.78 103.68,218.58 104.17,218.36 104.66,218.12 105.15,217.86 105.64,217.58 106.13,217.28 106.62,216.97 107.11,216.64 107.6,216.3 108.09,215.94 108.58,215.57 109.07,215.19 109.56,214.79 110.05,214.38 110.54,213.96 111.03,213.53 111.52,213.1 112.01,212.65 112.5,212.2 112.99,211.75 113.48,211.29 113.97,210.84 114.45,210.39 114.94,209.95 115.43,209.53 115.92,209.13 116.41,208.76 116.9,208.42 117.39,208.11 117.88,207.83 118.37,207.57 118.86,207.32 119.35,207.08 119.84,206.83 120.33,206.58 120.82,206.32 121.31,206.04 121.8,205.75 122.29,205.44 122.78,205.11 123.27,204.77 123.76,204.41 124.25,204.03 124.74,203.63 125.23,203.21 125.72,202.78 126.2,202.34 126.69,201.87 127.18,201.4 127.67,200.91 128.16,200.41 128.65,199.89 129.14,199.36 129.63,198.82 130.12,198.27 130.61,197.71 131.1,197.14 131.59,196.56 132.08,195.97 132.57,195.37 133.06,194.77 133.55,194.15 134.04,193.53 134.53,192.91 135.02,192.28 135.51,191.64 136,191 136.49,190.35 136.98,189.71 137.47,189.06 137.95,188.4 138.44,187.75 138.93,187.09 139.42,186.44 139.91,185.78 140.4,185.11 140.89,184.45 141.38,183.78 141.87,183.11 142.36,182.42 142.85,181.72 143.34,181.01 143.83,180.27 144.32,179.51 144.81,178.72 145.3,177.9 145.79,177.06 146.28,176.18 146.77,175.28 147.26,174.35 147.75,173.41 148.24,172.44 148.73,171.45 149.22,170.45 149.7,169.44 150.19,168.41 150.68,167.38 151.17,166.33 151.66,165.28 152.15,164.22 152.64,163.15 153.13,162.08 153.62,161.01 154.11,159.93M44.44,168.65 44.93,168.5 45.42,168.43 45.91,168.47 46.4,168.68 46.89,169.1 47.38,169.69 47.87,170.42 48.36,171.2 48.85,171.6 49.34,171.99 49.83,172.37 50.32,172.73 50.81,173.07 51.3,173.39 51.79,173.7 52.28,173.98 52.77,174.25 53.26,174.51 53.75,174.76 54.24,175 54.73,175.24 55.22,175.47 55.7,175.71 56.19,175.95 56.68,176.19 57.17,176.43 57.66,176.68 58.15,176.93 58.64,177.19 59.13,177.46 59.62,177.74 60.11,178.02 60.6,178.31 61.09,178.61 61.58,178.92 62.07,179.23 62.56,179.55 63.05,179.88 63.54,180.22 64.03,180.56 64.52,180.92 65.01,181.28 65.5,181.64 65.99,182.02 66.48,182.4 66.97,182.79 67.45,183.18 67.94,183.58 68.43,183.99 68.92,184.4 69.41,184.82 69.9,185.24 70.39,185.67 70.88,186.1 71.37,186.54 71.86,186.98 72.35,187.43 72.84,187.89 73.33,188.34 73.82,188.8 74.31,189.27 74.8,189.74 75.29,190.21 75.78,190.68 76.27,191.16 76.76,191.64 77.25,192.13 77.74,192.62 78.23,193.1 78.72,193.6 79.2,194.09 79.69,194.58 80.18,195.08 80.67,195.58 81.16,196.08 81.65,196.57 82.14,197.07 82.63,197.57 83.12,198.07 83.61,198.58 84.1,199.07 84.59,199.57 85.08,200.07 85.57,200.57 86.06,201.06 86.55,201.56 87.04,202.05 87.53,202.54 88.02,203.02 88.51,203.51 89,203.98 89.49,204.46 89.98,204.93 90.47,205.39 90.95,205.85 91.44,206.31 91.93,206.75 92.42,207.19 92.91,207.63 93.4,208.05 93.89,208.46 94.38,208.86 94.87,209.25 95.36,209.63 95.85,210 96.34,210.34 96.83,210.68 97.32,210.99 97.81,211.29 98.3,211.56 98.79,211.82 99.28,212.05 99.77,212.25 100.26,212.43 100.75,212.59 101.24,212.71 101.73,212.81 102.22,212.88 102.7,212.93 103.19,212.94 103.68,212.93 104.17,212.9 104.66,212.83 105.15,212.75 105.64,212.64 106.13,212.5 106.62,212.35 107.11,212.17 107.6,211.98 108.09,211.76 108.58,211.53 109.07,211.28 109.56,211.01 110.05,210.72 110.54,210.42 111.03,210.11 111.52,209.78 112.01,209.43 112.5,209.08 112.99,208.71 113.48,208.33 113.97,207.93 114.45,207.53 114.94,207.11 115.43,206.68 115.92,206.25 116.41,205.8 116.9,205.35 117.39,204.89 117.88,204.42 118.37,203.95 118.86,203.47 119.35,202.99 119.84,202.5 120.33,202.02 120.82,201.53 121.31,201.05 121.8,200.56 122.29,200.09 122.78,199.62 123.27,199.16 123.76,198.71 124.25,198.27 124.74,197.85 125.23,197.44 125.72,197.06 126.2,196.69 126.69,196.33 127.18,195.98 127.67,195.63 128.16,195.27 128.65,194.89 129.14,194.49 129.63,194.05 130.12,193.56 130.61,193.04 131.1,192.46 131.59,191.84 132.08,191.18 132.57,190.48 133.06,189.74 133.55,188.98 134.04,188.19 134.53,187.37 135.02,186.53 135.51,185.68 136,184.81 136.49,183.93 136.98,183.03 137.47,182.12 137.95,181.21 138.44,180.28 138.93,179.35 139.42,178.4 139.91,177.46 140.4,176.5 140.89,175.54 141.38,174.58 141.87,173.61 142.36,172.63 142.85,171.66 143.34,170.68 143.83,169.69 144.32,168.71 144.81,167.72 145.3,166.73 145.79,166.25 146.28,165.88 146.77,165.46 147.26,165.01 147.75,164.51 148.24,163.98 148.73,163.4 149.22,162.8 149.7,162.16 150.19,161.49 150.68,160.79 151.17,160.07 151.66,159.32M44.44,162.8 44.93,163.32 45.42,163.78 45.91,164.14 46.4,164.34 46.89,164.34 47.38,164.17 47.87,163.87 48.36,163.48 48.85,163.04 49.34,162.56 49.83,162.07 50.32,161.57 50.81,161.07 51.3,160.58 51.79,160.09 52.28,159.63 52.77,159.18M68.92,158.98 69.41,159.3 69.9,159.63 70.39,159.97 70.88,160.32 71.37,160.68 71.86,161.05 72.35,161.44 72.84,161.83 73.33,162.23 73.82,162.64 74.31,163.05 74.8,163.48 75.29,163.91 75.78,164.35 76.27,164.8 76.76,165.26 77.25,165.72 77.74,166.19 78.23,166.67 78.72,167.15 79.2,167.64 79.69,168.13 80.18,168.63 80.67,169.14 81.16,169.65 81.65,170.17 82.14,170.69 82.63,171.22 83.12,171.76 83.61,172.29 84.1,172.83 84.59,173.38 85.08,173.93 85.57,174.48 86.06,175.04 86.55,175.6 87.04,176.17 87.53,176.74 88.02,177.31 88.51,177.88 89,178.46 89.49,179.04 89.98,179.62 90.47,180.2 90.95,180.79 91.44,181.38 91.93,181.96 92.42,182.56 92.91,183.15 93.4,183.74 93.89,184.33 94.38,184.93 94.87,185.52 95.36,186.12 95.85,186.71 96.34,187.3 96.83,187.9 97.32,188.49 97.81,189.08 98.3,189.67 98.79,190.26 99.28,190.85 99.77,191.43 100.26,192.01 100.75,192.59 101.24,193.16 101.73,193.73 102.22,194.3 102.7,194.86 103.19,195.41 103.68,195.96 104.17,196.5 104.66,197.04 105.15,197.57 105.64,198.09 106.13,198.6 106.62,199.1 107.11,199.58 107.6,200.06 108.09,200.52 108.58,200.97 109.07,201.41 109.56,201.82 110.05,202.22 110.54,202.6 111.03,202.95 111.52,203.28 112.01,203.58 112.5,203.85 112.99,204.09 113.48,204.3 113.97,204.46 114.45,204.58 114.94,204.65 115.43,204.66 115.92,204.6 116.41,204.48 116.9,204.28 117.39,204 117.88,203.66 118.37,203.25 118.86,202.79 119.35,202.28 119.84,201.74 120.33,201.16 120.82,200.55 121.31,199.93 121.8,199.28 122.29,198.62 122.78,197.94 123.27,197.25 123.76,196.54 124.25,195.83 124.74,195.1 125.23,194.36 125.72,193.62 126.2,192.86 126.69,192.1 127.18,191.33 127.67,190.55 128.16,189.77 128.65,188.98 129.14,188.18 129.63,187.38 130.12,186.58 130.61,185.77 131.1,184.95 131.59,184.13 132.08,183.31 132.57,182.49 133.06,181.67 133.55,180.84 134.04,180.02 134.53,179.19 135.02,178.37 135.51,177.55 136,176.74 136.49,175.94 136.98,175.15 137.47,174.37 137.95,173.6 138.44,172.86 138.93,172.15 139.42,171.46 139.91,170.82 140.4,170.23 140.89,169.68 141.38,169.19 141.87,168.76 142.36,168.38 142.85,168.04 143.34,167.74 143.83,167.46 144.32,167.18 144.81,166.9 145.3,166.59 145.79,165.75 146.28,164.76 146.77,163.77 147.26,162.78 147.75,161.79 148.24,160.81 148.73,159.82M44.44,162.8 44.93,162.26 45.42,161.7 45.91,161.12 46.4,160.52 46.89,159.89 47.38,159.23M104.66,159.09 105.15,159.77 105.64,160.45 106.13,161.14 106.62,161.82 107.11,162.51 107.6,163.19 108.09,163.88 108.58,164.57 109.07,165.25 109.56,165.94 110.05,166.62 110.54,167.31 111.03,167.99 111.52,168.67 112.01,169.35 112.5,170.03 112.99,170.71 113.48,171.38 113.97,172.05 114.45,172.71 114.94,173.37 115.43,174.03 115.92,174.67 116.41,175.32 116.9,175.95 117.39,176.58 117.88,177.2 118.37,177.8 118.86,178.4 119.35,178.98 119.84,179.54 120.33,180.09 120.82,180.62 121.31,181.13 121.8,181.61 122.29,182.07 122.78,182.49 123.27,182.88 123.76,183.23 124.25,183.53 124.74,183.79 125.23,183.99 125.72,184.13 126.2,184.2 126.69,184.21 127.18,184.16 127.67,184.03 128.16,183.83 128.65,183.57 129.14,183.25 129.63,182.87 130.12,182.44 130.61,181.97 131.1,181.45 131.59,180.89 132.08,180.3 132.57,179.69 133.06,179.04 133.55,178.38 134.04,177.69 134.53,176.98 135.02,176.26 135.51,175.52 136,174.76 136.49,173.99 136.98,173.21 137.47,172.42 137.95,171.62 138.44,170.81 138.93,169.99 139.42,169.16 139.91,168.32 140.4,167.48 140.89,166.63 141.38,165.77 141.87,164.9 142.36,164.03 142.85,163.15 143.34,162.27 143.83,161.38 144.32,160.49 144.81,159.59" fill="none" stroke="#000" stroke-width="2.2" stroke-linejoin="round"/>
<path d="M44.44,173 52.08,191 66.53,221 76.39,243 83.33,258 89.58,272 93.75,282 96.53,290 98.61,297 100.28,304 101.11,310 101.53,317M106.67,317L167.36,163" fill="none" stroke="#000" stroke-width="2.2" stroke-linejoin="round"/>
<line x1="106.39" y1="163.0" x2="106.39" y2="316.0" stroke="#1e1eff" stroke-width="1.6"/>
<path d="M44.44,192.2 44.93,192.41 45.42,192.66 45.91,192.95 46.4,193.29 46.89,193.67 47.38,194.09 47.87,194.55 48.36,195.05 48.85,195.59 49.34,196.17 49.83,196.78 50.32,197.42 50.81,198.1 51.3,198.8 51.79,199.53 52.28,200.29 52.77,201.07 53.26,201.87 53.75,202.69 54.24,203.52 54.73,204.37 55.22,205.24 55.7,206.12 56.19,207.01 56.68,207.91 57.17,208.82 57.66,209.74 58.15,210.66 58.64,211.6 59.13,212.54 59.62,213.48 60.11,214.44 60.6,215.39 61.09,216.35 61.58,217.31 62.07,218.28 62.56,219.25 63.05,220.22 63.54,221.19 64.03,222.16 64.52,223.14 65.01,224.11 65.5,225.09 65.99,226.06 66.48,227.04 66.97,228.01 67.45,228.99 67.94,229.96 68.43,230.94 68.92,231.91 69.41,232.88 69.9,233.85 70.39,234.82 70.88,235.78 71.37,236.75 71.86,237.71 72.35,238.68 72.84,239.66 73.33,240.71 73.82,241.75 74.31,242.8 74.8,243.84 75.29,244.88 75.78,245.92 76.27,246.95 76.76,247.99 77.25,249.02 77.74,250.05 78.23,251.07 78.72,252.09 79.2,253.11 79.69,254.12 80.18,255.13 80.67,256.14 81.16,257.14 81.65,258.14 82.14,259.13 82.63,260.12 83.12,261.1 83.61,262.08 84.1,263.05 84.59,264.02 85.08,264.98 85.57,265.94 86.06,266.89 86.55,267.84 87.04,268.79 87.53,269.86 88.02,270.92 88.51,271.97 89,273.03 89.49,274.08 89.98,275.12 90.47,276.16 90.95,277.2 91.44,278.22 91.93,279.24 92.42,280.26 92.91,281.26 93.4,282.25 93.89,283.34 94.38,284.48 94.87,285.63 95.36,286.77 95.85,287.92 96.34,289.06 96.83,290.2 97.32,291.33 97.81,292.46 98.3,293.59 98.79,294.71 99.28,295.82 99.77,296.92 100.26,298.01 100.75,299.1 101.24,300.16 101.73,301.22 102.22,302.26 102.7,303.28 103.19,304.27 103.68,305.25 104.17,306.19 104.66,307.11 105.15,307.99 105.64,308.83 106.13,309.63 106.62,310.38 107.11,311.07 107.6,311.72 108.09,312.3 108.58,312.83 109.07,313.29 109.56,313.7 110.05,314.05 110.54,314.35 111.03,314.61 111.52,314.82 112.01,314.99 112.5,315.13 112.99,315.24 113.48,315.33 113.97,315.4 114.45,315.45 114.94,315.49 115.43,315.51 115.92,315.53 116.41,315.53 116.9,315.53 117.39,315.53 117.88,315.52 118.37,315.5 118.86,315.48 119.35,315.46 119.84,315.44 120.33,315.42 120.82,315.39 121.31,315.36 121.8,315.34 122.29,315.31 122.78,315.29 123.27,315.26 123.76,315.24 124.25,315.22 124.74,315.19 125.23,315.18 125.72,315.16 126.2,315.14 126.69,315.13 127.18,315.12 127.67,315.12 128.16,315.11 128.65,315.11 129.14,315.12 129.63,315.12 130.12,315.14 130.61,315.15 131.1,315.17 131.59,315.2 132.08,315.23 132.57,315.27 133.06,315.31 133.55,315.35 134.04,315.4 134.53,315.46 135.02,315.52 135.51,315.58 136,315.65 136.49,315.73 136.98,315.81 137.47,315.89 137.95,315.98 138.44,315.93 138.93,315.83 139.42,315.73 139.91,315.62 140.4,315.51 140.89,315.4 141.38,315.29 141.87,315.17 142.36,315.05 142.85,314.93 143.34,314.81 143.83,314.69 144.32,314.57 144.81,314.44 145.3,314.32 145.79,314.2 146.28,314.08 146.77,313.97 147.26,313.85 147.75,313.74 148.24,313.64 148.73,313.54 149.22,313.44 149.7,313.35 150.19,313.26 150.68,313.18 151.17,313.11 151.66,313.04 152.15,312.99 152.64,312.94 153.13,312.9 153.62,312.87 154.11,312.85 154.6,312.84 155.09,312.83 155.58,312.84 156.07,312.87 156.56,312.9 157.05,312.94 157.54,312.99 158.03,313.06 158.52,313.14 159.01,313.22 159.5,313.32 159.99,313.44 160.48,313.56 160.97,313.69 161.45,313.84 161.94,313.99 162.43,314.16 162.92,314.34 163.41,314.52 163.9,314.72 164.39,314.92 164.88,315.13 165.37,315.35 165.86,315.58 166.35,315.82 166.84,315.94 167.33,315.7 167.82,315.45 168.31,315.19 168.8,314.93 169.29,314.67 169.78,314.41 170.27,314.14 170.76,313.87 171.25,313.61 171.74,313.34 172.23,313.08 172.72,312.82 173.2,312.57 173.69,312.31 174.18,312.07 174.67,311.83 175.16,311.59 175.65,311.37 176.14,311.15 176.63,310.94 177.12,310.75 177.61,310.56 178.1,310.39 178.59,310.22 179.08,310.08 179.57,309.94 180.06,309.82 180.55,309.72 181.04,309.63 181.53,309.56 182.02,309.51 182.51,309.47 183,309.45 183.49,309.45 183.98,309.47 184.47,309.51 184.95,309.57 185.44,309.64 185.93,309.74 186.42,309.85 186.91,309.98 187.4,310.13 187.89,310.3 188.38,310.49 188.87,310.69 189.36,310.92 189.85,311.15 190.34,311.41 190.83,311.68 191.32,311.97 191.81,312.27 192.3,312.58 192.79,312.91 193.28,313.25 193.77,313.6 194.26,313.97 194.75,314.34 195.24,314.72 195.73,315.11 196.22,315.51 196.7,315.92 197.19,315.67 197.68,315.26 198.17,314.84 198.66,314.42 199.15,313.99 199.64,313.57 200.13,313.14 200.62,312.72 201.11,312.3 201.6,311.88 202.09,311.47 202.58,311.06 203.07,310.65 203.56,310.26 204.05,309.87 204.54,309.49 205.03,309.12 205.52,308.77 206.01,308.42 206.5,308.09 206.99,307.78 207.48,307.48 207.97,307.19 208.45,306.93 208.94,306.68 209.43,306.46 209.92,306.25 210.41,306.07 210.9,305.91 211.39,305.77 211.88,305.65 212.37,305.56 212.86,305.5 213.35,305.46 213.84,305.45 214.33,305.46 214.82,305.5 215.31,305.56 215.8,305.65 216.29,305.77 216.78,305.92 217.27,306.09 217.76,306.28 218.25,306.5 218.74,306.75 219.23,307.01 219.72,307.31 220.2,307.62 220.69,307.96 221.18,308.31 221.67,308.69 222.16,309.08 222.65,309.5 223.14,309.93 223.63,310.37 224.12,310.84 224.61,311.31 225.1,311.8 225.59,312.3 226.08,312.82 226.57,313.34 227.06,313.87 227.55,314.42 228.04,314.97 228.53,315.52 229.02,315.92 229.51,315.35 230,314.78 230.49,314.21 230.98,313.64 231.47,313.07 231.95,312.5 232.44,311.92 232.93,311.36 233.42,310.79 233.91,310.23 234.4,309.68 234.89,309.13 235.38,308.59 235.87,308.06 236.36,307.54 236.85,307.03 237.34,306.54 237.83,306.06 238.32,305.59 238.81,305.14 239.3,304.71 239.79,304.3 240.28,303.9 240.77,303.53 241.26,303.18 241.75,302.86 242.24,302.56 242.73,302.29 243.22,302.04 243.7,301.83 244.19,301.64 244.68,301.48 245.17,301.36 245.66,301.27 246.15,301.21 246.64,301.18 247.13,301.18 247.62,301.22 248.11,301.29 248.6,301.4 249.09,301.54 249.58,301.71 250.07,301.91 250.56,302.14 251.05,302.41 251.54,302.7 252.03,303.03 252.52,303.38 253.01,303.76 253.5,304.16 253.99,304.59 254.48,305.05 254.97,305.52 255.45,306.02 255.94,306.54 256.43,307.07 256.92,307.63 257.41,308.2 257.9,308.78 258.39,309.38 258.88,310 259.37,310.63 259.86,311.26 260.35,311.91 260.84,312.57 261.33,313.24 261.82,313.91 262.31,314.59 262.8,315.28 263.29,315.97 263.78,315.34 264.27,314.64 264.76,313.94 265.25,313.25 265.74,312.55 266.23,311.85 266.72,311.15 267.2,310.46 267.69,309.77 268.18,309.09 268.67,308.41 269.16,307.73 269.65,307.07 270.14,306.42 270.63,305.77 271.12,305.14 271.61,304.52 272.1,303.91 272.59,303.32 273.08,302.74 273.57,302.19 274.06,301.65 274.55,301.13 275.04,300.64 275.53,300.17 276.02,299.72 276.51,299.3 277,298.91 277.49,298.55 277.98,298.22 278.47,297.93 278.95,297.66 279.44,297.43 279.93,297.24 280.42,297.09 280.91,296.97 281.4,296.9 281.89,296.86 282.38,296.86 282.87,296.9 283.36,296.98 283.85,297.1 284.34,297.26 284.83,297.46 285.32,297.69 285.81,297.97 286.3,298.27 286.79,298.62 287.28,298.99 287.77,299.4 288.26,299.84 288.75,300.31 289.24,300.8 289.73,301.32 290.22,301.87 290.7,302.44 291.19,303.03 291.68,303.64 292.17,304.28 292.66,304.93 293.15,305.59 293.64,306.28 294.13,306.97 294.62,307.68 295.11,308.41 295.6,309.14 296.09,309.89 296.58,310.64 297.07,311.41 297.56,312.18 298.05,312.96 298.54,313.74 299.03,314.53 299.52,315.32 300.01,315.88 300.5,315.09 300.99,314.29 301.48,313.48 301.97,312.68 302.45,311.88 302.94,311.08 303.43,310.28 303.92,309.49 304.41,308.7 304.9,307.91 305.39,307.13 305.88,306.36 306.37,305.59 306.86,304.83 307.35,304.09 307.84,303.35 308.33,302.62 308.82,301.91 309.31,301.21 309.8,300.53 310.29,299.86 310.78,299.21 311.27,298.58 311.76,297.98 312.25,297.39 312.74,296.84 313.23,296.3 313.72,295.8 314.2,295.33 314.69,294.89 315.18,294.48 315.67,294.11 316.16,293.77 316.65,293.47 317.14,293.22 317.63,293 318.12,292.83 318.61,292.71 319.1,292.62 319.59,292.59 320.08,292.6 320.57,292.65 321.06,292.75 321.55,292.89 322.04,293.08 322.53,293.32 323.02,293.59 323.51,293.91 324,294.26 324.49,294.66 324.98,295.09 325.47,295.55 325.95,296.05 326.44,296.58 326.93,297.14 327.42,297.72 327.91,298.34 328.4,298.97 328.89,299.64 329.38,300.32 329.87,301.02 330.36,301.74 330.85,302.48 331.34,303.23 331.83,304 332.32,304.78 332.81,305.58 333.3,306.38 333.79,307.2 334.28,308.03 334.77,308.86 335.26,309.71 335.75,310.56 336.24,311.41 336.73,312.28 337.22,313.14 337.7,314.01 338.19,314.89 338.68,315.77 339.17,315.35 339.66,314.47 340.15,313.59 340.64,312.7 341.13,311.82 341.62,310.94 342.11,310.06 342.6,309.18 343.09,308.31 343.58,307.44 344.07,306.57 344.56,305.71 345.05,304.85 345.54,304.01 346.03,303.17 346.52,302.34 347.01,301.51 347.5,300.7 347.99,299.9 348.48,299.12 348.97,298.35 349.45,297.59 349.94,296.85 350.43,296.13 350.92,295.43 351.41,294.75 351.9,294.09 352.39,293.46 352.88,292.86 353.37,292.29 353.86,291.75 354.35,291.24 354.84,290.77 355.33,290.33 355.82,289.93 356.31,289.58 356.8,289.27 357.29,289.01 357.78,288.79 358.27,288.62 358.76,288.51 359.25,288.44 359.74,288.42 360.23,288.46 360.72,288.54 361.2,288.68 361.69,288.87 362.18,289.1 362.67,289.38 363.16,289.71 363.65,290.09 364.14,290.5 364.63,290.96 365.12,291.45 365.61,291.98 366.1,292.54 366.59,293.14 367.08,293.76 367.57,294.42 368.06,295.1 368.55,295.8 369.04,296.53 369.53,297.28 370.02,298.04 370.51,298.83 371,299.63 371.49,300.45 371.98,301.28 372.47,302.13 372.95,302.98 373.44,303.85 373.93,304.73 374.42,305.62 374.91,306.51 375.4,307.41 375.89,308.33 376.38,309.24 376.87,310.16 377.36,311.09 377.85,312.02 378.34,312.96 378.83,313.9 379.32,314.84 379.81,315.78 380.3,315.27 380.79,314.33 381.28,313.38 381.77,312.43 382.26,311.49 382.75,310.54 383.24,309.6 383.73,308.65 384.22,307.71 384.7,306.78 385.19,305.84 385.68,304.92 386.17,303.99 386.66,303.07 387.15,302.16 387.64,301.26 388.13,300.36 388.62,299.48 389.11,298.6 389.6,297.73 390.09,296.88 390.58,296.04 391.07,295.21 391.56,294.4 392.05,293.61 392.54,292.83 393.03,292.08 393.52,291.34 394.01,290.63 394.5,289.95 394.99,289.3 395.48,288.67 395.97,288.08 396.45,287.52 396.94,287 397.43,286.52 397.92,286.09 398.41,285.69 398.9,285.35 399.39,285.05 399.88,284.81 400.37,284.62 400.86,284.48 401.35,284.4 401.84,284.38 402.33,284.42 402.82,284.5 403.31,284.65 403.8,284.85 404.29,285.11 404.78,285.41 405.27,285.77 405.76,286.17 406.25,286.62 406.74,287.11 407.23,287.64 407.72,288.21 408.2,288.82 408.69,289.46 409.18,290.13 409.67,290.83 410.16,291.55 410.65,292.3 411.14,293.07 411.63,293.87 412.12,294.68 412.61,295.51 413.1,296.36 413.59,297.22 414.08,298.1 414.57,298.99 415.06,299.89 415.55,300.8 416.04,301.73 416.53,302.66 417.02,303.6 417.51,304.54 418,305.5 418.49,306.46 418.98,307.43 419.47,308.4 419.95,309.38 420.44,310.36 420.93,311.34 421.42,312.33 421.91,313.32 422.4,314.31 422.89,315.3 423.38,315.7 423.87,314.7 424.36,313.71 424.85,312.71 425.34,311.71 425.83,310.71 426.32,309.72 426.81,308.72 427.3,307.73 427.79,306.74 428.28,305.75 428.77,304.77 429.26,303.79 429.75,302.81 430.24,301.84 430.73,300.88 431.22,299.92 431.7,298.97 432.19,298.02 432.68,297.09 433.17,296.16 433.66,295.24 434.15,294.34 434.64,293.44 435.13,292.56 435.62,291.7 436.11,290.85M44.44,192.2 44.93,192.03 45.42,191.91 45.91,191.83 46.4,191.8 46.89,191.82 47.38,191.89 47.87,192.02 48.36,192.21 48.85,192.49 49.34,193.17 49.83,193.89 50.32,194.63 50.81,195.4 51.3,196.19 51.79,197 52.28,197.82 52.77,198.67 53.26,199.53 53.75,200.41 54.24,201.3 54.73,202.2 55.22,203.11 55.7,204.04 56.19,204.97 56.68,205.92 57.17,206.87 57.66,207.83 58.15,208.8 58.64,209.77 59.13,210.75 59.62,211.74 60.11,212.74 60.6,213.74 61.09,214.74 61.58,215.75 62.07,216.76 62.56,217.78 63.05,218.8 63.54,219.83 64.03,220.86 64.52,221.89 65.01,222.93 65.5,223.96 65.99,225 66.48,226.04 66.97,227.09 67.45,228.13 67.94,229.18 68.43,230.22 68.92,231.27 69.41,232.32 69.9,233.37 70.39,234.42 70.88,235.47 71.37,236.52 71.86,237.57 72.35,238.62 72.84,239.64 73.33,240.6 73.82,241.55 74.31,242.51 74.8,243.47 75.29,244.43 75.78,245.38 76.27,246.34 76.76,247.3 77.25,248.26 77.74,249.23 78.23,250.2 78.72,251.18 79.2,252.16 79.69,253.15 80.18,254.15 80.67,255.15 81.16,256.17 81.65,257.19 82.14,258.22 82.63,259.26 83.12,260.31 83.61,261.36 84.1,262.42 84.59,263.47 85.08,264.54 85.57,265.6 86.06,266.66 86.55,267.73 87.04,268.79 87.53,269.74 88.02,270.69 88.51,271.64 89,272.61 89.49,273.59 89.98,274.59 90.47,275.62 90.95,276.67 91.44,277.74 91.93,278.84 92.42,279.95 92.91,281.07 93.4,282.2 93.89,283.24 94.38,284.21 94.87,285.17 95.36,286.12 95.85,287.05 96.34,287.97 96.83,288.87 97.32,289.76 97.81,290.62 98.3,291.46 98.79,292.28 99.28,293.08 99.77,293.85 100.26,294.59 100.75,295.3 101.24,295.98 101.73,296.62 102.22,297.22 102.7,297.78 103.19,298.29 103.68,298.75 104.17,299.16 104.66,299.52 105.15,299.81 105.64,300.03 106.13,300.18 106.62,300.26 107.11,300.26 107.6,300.17 108.09,300 108.58,299.74 109.07,299.4 109.56,298.98 110.05,298.48 110.54,297.9 111.03,297.26 111.52,296.55 112.01,295.78 112.5,294.96 112.99,294.1 113.48,293.2 113.97,292.27 114.45,291.3 114.94,290.31 115.43,289.29 115.92,288.26 116.41,287.2 116.9,286.13 117.39,285.05 117.88,283.95 118.37,282.85 118.86,281.73 119.35,280.6 119.84,279.47 120.33,278.33 120.82,277.18 121.31,276.02 121.8,274.87 122.29,273.7 122.78,272.53 123.27,271.36 123.76,270.19 124.25,269.01 124.74,267.83 125.23,266.64 125.72,265.45 126.2,264.27 126.69,263.07 127.18,261.88 127.67,260.68 128.16,259.49 128.65,258.29 129.14,257.09 129.63,255.89 130.12,254.68 130.61,253.48 131.1,252.27 131.59,251.07 132.08,249.86 132.57,248.65 133.06,247.45 133.55,246.24 134.04,245.03 134.53,243.82 135.02,242.61 135.51,241.4 136,240.19 136.49,238.98 136.98,237.77 137.47,236.56 137.95,235.35 138.44,234.15 138.93,232.96 139.42,231.77 139.91,230.61 140.4,229.88 140.89,229.69 141.38,229.48 141.87,229.26 142.36,229.03 142.85,228.78 143.34,228.99 143.83,229.31 144.32,229.63 144.81,229.95 145.3,230.28 145.79,230.61 146.28,230.93 146.77,231.25 147.26,231.56 147.75,231.86 148.24,232.16 148.73,232.44 149.22,232.72 149.7,232.98 150.19,233.24 150.68,233.48 151.17,233.7 151.66,233.91 152.15,234.11 152.64,234.29 153.13,234.46 153.62,234.61 154.11,234.74 154.6,234.85 155.09,234.95 155.58,235.02 156.07,235.08 156.56,235.12 157.05,235.14 157.54,235.14 158.03,235.12 158.52,235.08 159.01,235.02 159.5,234.94 159.99,234.84 160.48,234.72 160.97,234.58 161.45,234.42 161.94,234.24 162.43,234.04 162.92,233.82 163.41,233.58 163.9,233.32 164.39,233.05 164.88,232.75 165.37,232.44 165.86,232.11 166.35,231.76 166.84,231.4 167.33,231.02 167.82,230.62 168.31,230.21 168.8,229.78 169.29,229.34 169.78,228.89 170.27,229.14 170.76,229.64 171.25,230.13 171.74,230.62 172.23,231.1 172.72,231.57 173.2,232.03 173.69,232.48 174.18,232.92 174.67,233.35 175.16,233.76 175.65,234.15 176.14,234.53 176.63,234.89 177.12,235.24 177.61,235.56 178.1,235.87 178.59,236.16 179.08,236.43 179.57,236.67 180.06,236.9 180.55,237.1 181.04,237.28 181.53,237.44 182.02,237.57 182.51,237.67 183,237.76 183.49,237.82 183.98,237.85 184.47,237.86 184.95,237.84 185.44,237.79 185.93,237.72 186.42,237.63 186.91,237.51 187.4,237.36 187.89,237.19 188.38,236.99 188.87,236.77 189.36,236.52 189.85,236.25 190.34,235.96 190.83,235.64 191.32,235.3 191.81,234.94 192.3,234.55 192.79,234.15 193.28,233.72 193.77,233.28 194.26,232.81 194.75,232.33 195.24,231.83 195.73,231.31 196.22,230.78 196.7,230.22 197.19,229.66 197.68,229.08 198.17,228.48 198.66,227.87 199.15,227.25 199.64,227.87 200.13,228.51 200.62,229.14 201.11,229.76 201.6,230.36 202.09,230.96 202.58,231.54 203.07,232.12 203.56,232.67 204.05,233.22 204.54,233.74 205.03,234.25 205.52,234.74 206.01,235.21 206.5,235.67 206.99,236.1 207.48,236.51 207.97,236.89 208.45,237.25 208.94,237.59 209.43,237.9 209.92,238.19 210.41,238.45 210.9,238.68 211.39,238.88 211.88,239.06 212.37,239.2 212.86,239.31 213.35,239.4 213.84,239.45 214.33,239.47 214.82,239.46 215.31,239.42 215.8,239.34 216.29,239.24 216.78,239.1 217.27,238.93 217.76,238.74 218.25,238.51 218.74,238.25 219.23,237.97 219.72,237.65 220.2,237.31 220.69,236.94 221.18,236.55 221.67,236.12 222.16,235.68 222.65,235.21 223.14,234.72 223.63,234.2 224.12,233.67 224.61,233.11 225.1,232.54 225.59,231.94 226.08,231.33 226.57,230.7 227.06,230.05 227.55,229.39 228.04,228.71 228.53,228.02 229.02,227.31 229.51,226.59 230,225.86 230.49,225.12 230.98,224.71 231.47,225.46 231.95,226.21 232.44,226.95 232.93,227.68 233.42,228.41 233.91,229.12 234.4,229.81 234.89,230.5 235.38,231.17 235.87,231.82 236.36,232.46 236.85,233.08 237.34,233.69 237.83,234.27 238.32,234.83 238.81,235.38 239.3,235.9 239.79,236.39 240.28,236.86 240.77,237.31 241.26,237.73 241.75,238.11 242.24,238.47 242.73,238.8 243.22,239.1 243.7,239.37 244.19,239.6 244.68,239.79 245.17,239.95 245.66,240.08 246.15,240.17 246.64,240.22 247.13,240.24 247.62,240.22 248.11,240.16 248.6,240.07 249.09,239.94 249.58,239.77 250.07,239.57 250.56,239.33 251.05,239.05 251.54,238.75 252.03,238.41 252.52,238.04 253.01,237.64 253.5,237.21 253.99,236.75 254.48,236.26 254.97,235.74 255.45,235.2 255.94,234.64 256.43,234.05 256.92,233.44 257.41,232.81 257.9,232.16 258.39,231.49 258.88,230.8 259.37,230.09 259.86,229.37 260.35,228.63 260.84,227.88 261.33,227.11 261.82,226.33 262.31,225.53 262.8,224.73 263.29,223.91 263.78,223.08 264.27,222.24 264.76,221.39 265.25,221.49 265.74,222.34 266.23,223.18 266.72,224.01 267.2,224.84 267.69,225.65 268.18,226.46 268.67,227.25 269.16,228.03 269.65,228.8 270.14,229.55 270.63,230.29 271.12,231.01 271.61,231.72 272.1,232.41 272.59,233.08 273.08,233.73 273.57,234.35 274.06,234.96 274.55,235.54 275.04,236.09 275.53,236.62 276.02,237.12 276.51,237.58 277,238.02 277.49,238.42 277.98,238.79 278.47,239.12 278.95,239.42 279.44,239.68 279.93,239.9 280.42,240.08 280.91,240.22 281.4,240.31 281.89,240.37 282.38,240.38 282.87,240.35 283.36,240.28 283.85,240.16 284.34,240.01 284.83,239.81 285.32,239.57 285.81,239.29 286.3,238.98 286.79,238.63 287.28,238.24 287.77,237.81 288.26,237.36 288.75,236.87 289.24,236.35 289.73,235.8 290.22,235.23 290.7,234.62 291.19,234 291.68,233.34 292.17,232.67 292.66,231.97 293.15,231.26 293.64,230.52 294.13,229.77 294.62,229 295.11,228.21 295.6,227.41 296.09,226.59 296.58,225.76 297.07,224.92 297.56,224.06 298.05,223.2 298.54,222.32 299.03,221.43 299.52,220.54 300.01,219.63 300.5,218.72 300.99,217.79 301.48,217.02 301.97,217.95 302.45,218.86 302.94,219.78 303.43,220.68 303.92,221.58 304.41,222.47 304.9,223.35 305.39,224.22 305.88,225.08 306.37,225.93 306.86,226.77 307.35,227.59 307.84,228.4 308.33,229.19 308.82,229.97 309.31,230.73 309.8,231.47 310.29,232.19 310.78,232.89 311.27,233.57 311.76,234.22 312.25,234.85 312.74,235.45 313.23,236.02 313.72,236.56 314.2,237.07 314.69,237.54 315.18,237.98 315.67,238.38 316.16,238.74 316.65,239.06 317.14,239.34 317.63,239.57 318.12,239.76 318.61,239.9 319.1,239.99 319.59,240.04 320.08,240.04 320.57,239.99 321.06,239.9 321.55,239.76 322.04,239.57 322.53,239.33 323.02,239.05 323.51,238.73 324,238.37 324.49,237.97 324.98,237.53 325.47,237.05 325.95,236.54 326.44,235.99 326.93,235.41 327.42,234.8 327.91,234.17 328.4,233.5 328.89,232.81 329.38,232.1 329.87,231.37 330.36,230.61 330.85,229.84 331.34,229.04 331.83,228.23 332.32,227.41 332.81,226.56 333.3,225.71 333.79,224.83 334.28,223.95 334.77,223.06 335.26,222.15 335.75,221.23 336.24,220.3 336.73,219.37 337.22,218.42 337.7,217.47 338.19,216.51 338.68,215.54 339.17,214.56 339.66,213.58 340.15,212.59 340.64,213.39 341.13,214.37 341.62,215.34 342.11,216.31 342.6,217.27 343.09,218.23 343.58,219.18 344.07,220.12 344.56,221.05 345.05,221.97 345.54,222.88 346.03,223.78 346.52,224.67 347.01,225.55 347.5,226.41 347.99,227.26 348.48,228.1 348.97,228.91 349.45,229.71 349.94,230.49 350.43,231.25 350.92,231.99 351.41,232.7 351.9,233.39 352.39,234.05 352.88,234.68 353.37,235.28 353.86,235.85 354.35,236.38 354.84,236.88 355.33,237.33 355.82,237.75 356.31,238.12 356.8,238.44 357.29,238.72 357.78,238.95 358.27,239.13 358.76,239.26 359.25,239.33 359.74,239.35 360.23,239.32 360.72,239.24 361.2,239.11 361.69,238.92 362.18,238.68 362.67,238.4 363.16,238.06 363.65,237.69 364.14,237.26 364.63,236.8 365.12,236.3 365.61,235.76 366.1,235.18 366.59,234.57 367.08,233.93 367.57,233.26 368.06,232.56 368.55,231.83 369.04,231.08 369.53,230.31 370.02,229.52 370.51,228.7 371,227.87 371.49,227.02 371.98,226.16 372.47,225.28 372.95,224.38 373.44,223.48 373.93,222.56 374.42,221.63 374.91,220.68 375.4,219.73 375.89,218.77 376.38,217.8 376.87,216.82 377.36,215.83 377.85,214.84 378.34,213.84 378.83,212.83 379.32,211.82 379.81,210.8 380.3,209.78 380.79,208.75 381.28,207.93 381.77,208.95 382.26,209.98 382.75,211 383.24,212.01 383.73,213.02 384.22,214.03 384.7,215.03 385.19,216.02 385.68,217 386.17,217.98 386.66,218.95 387.15,219.91 387.64,220.86 388.13,221.8 388.62,222.73 389.11,223.65 389.6,224.56 390.09,225.45 390.58,226.32 391.07,227.18 391.56,228.03 392.05,228.85 392.54,229.66 393.03,230.44 393.52,231.2 394.01,231.93 394.5,232.63 394.99,233.31 395.48,233.96 395.97,234.57 396.45,235.14 396.94,235.68 397.43,236.17 397.92,236.62 398.41,237.02 398.9,237.38 399.39,237.69 399.88,237.94 400.37,238.14 400.86,238.28 401.35,238.36 401.84,238.39 402.33,238.36 402.82,238.27 403.31,238.13 403.8,237.93 404.29,237.67 404.78,237.36 405.27,237 405.76,236.59 406.25,236.14 406.74,235.64 407.23,235.1 407.72,234.52 408.2,233.9 408.69,233.25 409.18,232.57 409.67,231.86 410.16,231.12 410.65,230.35 411.14,229.56 411.63,228.75 412.12,227.92 412.61,227.06 413.1,226.19 413.59,225.31 414.08,224.41 414.57,223.49 415.06,222.56 415.55,221.62 416.04,220.66 416.53,219.7 417.02,218.72 417.51,217.74 418,216.74 418.49,215.74 418.98,214.73 419.47,213.72 419.95,212.69 420.44,211.66 420.93,210.63 421.42,209.59 421.91,208.54 422.4,207.49 422.89,206.43 423.38,205.37 423.87,204.31 424.36,203.24 424.85,203.8 425.34,204.86 425.83,205.92 426.32,206.97 426.81,208.02 427.3,209.07 427.79,210.11 428.28,211.15 428.77,212.18 429.26,213.2 429.75,214.22 430.24,215.23 430.73,216.24 431.22,217.24 431.7,218.22 432.19,219.2 432.68,220.17 433.17,221.13 433.66,222.08 434.15,223.01 434.64,223.93 435.13,224.84 435.62,225.73 436.11,226.6" fill="none" stroke="#ff1010" stroke-width="2.1" stroke-dasharray="8 3 2 3"/>
</g>
<rect x="44.44" y="163.0" width="391.67" height="153" fill="none" stroke="#000" stroke-width="2"/>
<path d="M44.44,316h6M44.44,291.3h3.5M44.44,266.6h6M44.44,241.9h3.5M44.44,217.2h6M44.44,192.5h3.5M44.44,167.8h6M44.44,316v-7M93.4,316v-4M142.36,316v-7M191.32,316v-4M240.28,316v-7M289.24,316v-4M338.19,316v-7M387.15,316v-4M436.11,316v-7" stroke="#000" stroke-width="1.6" fill="none"/>
<text x="37.5" y="320.9" font-size="16.3" text-anchor="end" stroke="#000" stroke-width="0.4" textLength="20.4" lengthAdjust="spacingAndGlyphs">0.0</text>
<text x="37.5" y="271.5" font-size="16.3" text-anchor="end" stroke="#000" stroke-width="0.4" textLength="20.4" lengthAdjust="spacingAndGlyphs">0.1</text>
<text x="37.5" y="222.1" font-size="16.3" text-anchor="end" stroke="#000" stroke-width="0.4" textLength="20.4" lengthAdjust="spacingAndGlyphs">0.2</text>
<text x="37.5" y="172.7" font-size="16.3" text-anchor="end" stroke="#000" stroke-width="0.4" textLength="20.4" lengthAdjust="spacingAndGlyphs">0.3</text>
<text transform="translate(12.5,240.4) rotate(-90)" font-size="18.6" font-weight="bold" text-anchor="middle">E (meV)</text>
<rect x="371.67" y="243.7" width="55.69" height="37.5" fill="#000"/>
<rect x="367.5" y="240.2" width="56.25" height="37.5" fill="#fff" stroke="#000" stroke-width="1"/>
<text x="371.67" y="250.4" font-size="9.6" font-weight="bold" stroke="#000" stroke-width="0.35" textLength="26.94" lengthAdjust="spacingAndGlyphs">L=2<tspan font-weight="normal">μ</tspan>m</text>
<path d="M370.97,258.8H391.67" stroke="#ff1010" stroke-width="2.2" stroke-dasharray="7 3.5 2.5 3.5 2.5 10"/>
<path d="M370.97,271.3H394.72" stroke="#000" stroke-width="2.2"/>
<text x="397.92" y="262.2" font-size="9.4" font-weight="bold" stroke="#000" stroke-width="0.35" textLength="10.28" lengthAdjust="spacingAndGlyphs">TB</text>
<text x="397.92" y="275.1" font-size="9.4" font-weight="bold" stroke="#000" stroke-width="0.35" textLength="16.39" lengthAdjust="spacingAndGlyphs">TWF</text>
<text x="49.86" y="297.6" font-size="15" font-weight="bold" textLength="15.83" lengthAdjust="spacingAndGlyphs">(b)</text>
<text x="43.89" y="336.9" font-size="16.3" text-anchor="middle" stroke="#000" stroke-width="0.4" textLength="20.4" lengthAdjust="spacingAndGlyphs">0.0</text>
<text x="142.36" y="336.9" font-size="16.3" text-anchor="middle" stroke="#000" stroke-width="0.4" textLength="20.4" lengthAdjust="spacingAndGlyphs">0.5</text>
<text x="240.28" y="336.9" font-size="16.3" text-anchor="middle" stroke="#000" stroke-width="0.4" textLength="20.4" lengthAdjust="spacingAndGlyphs">1.0</text>
<text x="338.19" y="336.9" font-size="16.3" text-anchor="middle" stroke="#000" stroke-width="0.4" textLength="20.4" lengthAdjust="spacingAndGlyphs">1.5</text>
<text x="436.11" y="336.9" font-size="16.3" text-anchor="middle" stroke="#000" stroke-width="0.4" textLength="20.4" lengthAdjust="spacingAndGlyphs">2.0</text>
<text x="99.44" y="338.2" font-size="16.8" font-weight="bold" fill="#1e1eff">V</text>
<text x="109.58" y="345.2" font-size="10" font-weight="bold" fill="#1e1eff">z</text>
<text x="114.86" y="328.9" font-size="9" font-weight="bold" fill="#1e1eff">c</text>
<text x="211.67" y="350" font-size="15.6" font-weight="bold">V</text>
<text x="221.39" y="357.4" font-size="9" font-weight="bold">z</text>
<text x="228.89" y="350" font-size="15.6" font-weight="bold">(meV)</text>
</svg></body></html>
